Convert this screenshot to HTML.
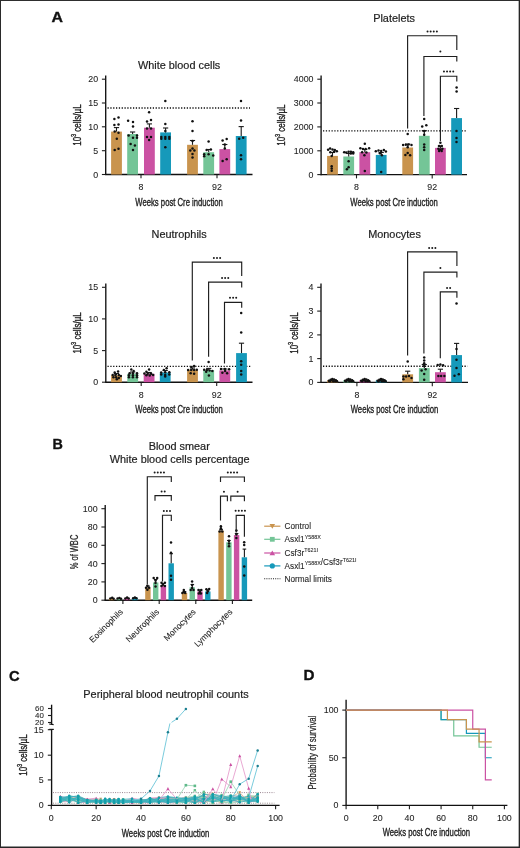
<!DOCTYPE html>
<html><head><meta charset="utf-8"><style>
html,body{margin:0;padding:0;background:#fff;}
svg{display:block;font-family:"Liberation Sans",sans-serif;will-change:transform;}
text{stroke:#222;stroke-width:0.2px;}
.t{stroke-width:0.08px;}
.p{stroke:#111;stroke-width:0.35px;}
.w{stroke-width:0.22px;}
.c{stroke-width:0.36px;}
</style></head><body>
<svg width="520" height="848" viewBox="0 0 520 848">
<rect x="0" y="0" width="520" height="848" fill="#fff"/>
<text transform="translate(51.60,21.90) scale(1.08,1)" font-size="14.7" text-anchor="start" font-weight="bold" fill="#111" class="p">A</text>
<text transform="translate(52.60,448.60) scale(0.97,1)" font-size="14.8" text-anchor="start" font-weight="bold" fill="#111" class="p">B</text>
<text transform="translate(9.00,680.90)" font-size="14.7" text-anchor="start" font-weight="bold" fill="#111" class="p">C</text>
<text transform="translate(303.40,680.20) scale(1.03,1)" font-size="14.8" text-anchor="start" font-weight="bold" fill="#111" class="p">D</text>
<line x1="105.70" y1="75.40" x2="105.70" y2="175.10" stroke="#111" stroke-width="1.35"/>
<line x1="105.10" y1="174.50" x2="252.50" y2="174.50" stroke="#111" stroke-width="1.35"/>
<line x1="101.90" y1="79.20" x2="105.70" y2="79.20" stroke="#1e1e1e" stroke-width="1.1"/>
<text transform="translate(98.10,82.26) scale(1.03,1)" font-size="8.6" text-anchor="end" fill="#1e1e1e" class="t">20</text>
<line x1="101.90" y1="103.00" x2="105.70" y2="103.00" stroke="#1e1e1e" stroke-width="1.1"/>
<text transform="translate(98.10,106.06) scale(1.03,1)" font-size="8.6" text-anchor="end" fill="#1e1e1e" class="t">15</text>
<line x1="101.90" y1="126.80" x2="105.70" y2="126.80" stroke="#1e1e1e" stroke-width="1.1"/>
<text transform="translate(98.10,129.86) scale(1.03,1)" font-size="8.6" text-anchor="end" fill="#1e1e1e" class="t">10</text>
<line x1="101.90" y1="150.70" x2="105.70" y2="150.70" stroke="#1e1e1e" stroke-width="1.1"/>
<text transform="translate(98.10,153.76) scale(1.03,1)" font-size="8.6" text-anchor="end" fill="#1e1e1e" class="t">5</text>
<line x1="101.90" y1="174.50" x2="105.70" y2="174.50" stroke="#1e1e1e" stroke-width="1.1"/>
<text transform="translate(98.10,177.56) scale(1.03,1)" font-size="8.6" text-anchor="end" fill="#1e1e1e" class="t">0</text>
<line x1="141.00" y1="174.50" x2="141.00" y2="178.30" stroke="#1e1e1e" stroke-width="1.1"/>
<text transform="translate(141.00,189.90) scale(1.03,1)" font-size="8.6" text-anchor="middle" fill="#1e1e1e" class="t">8</text>
<line x1="217.00" y1="174.50" x2="217.00" y2="178.30" stroke="#1e1e1e" stroke-width="1.1"/>
<text transform="translate(217.00,189.90) scale(1.03,1)" font-size="8.6" text-anchor="middle" fill="#1e1e1e" class="t">92</text>
<text transform="translate(179.10,68.70)" font-size="10.9" text-anchor="middle" fill="#1e1e1e">White blood cells</text>
<text x="179.10" y="205.50" font-size="10.8" text-anchor="middle" fill="#1e1e1e" class="c" textLength="87.5" lengthAdjust="spacingAndGlyphs">Weeks post Cre induction</text>
<text transform="translate(81.00,125.05) rotate(-90)" font-size="10.3" text-anchor="middle" fill="#1e1e1e" class="c" textLength="41.3" lengthAdjust="spacingAndGlyphs">10<tspan font-size="6.6" dy="-4.9">3</tspan><tspan dy="4.9"> cells/µL</tspan></text>
<line x1="107.50" y1="108.00" x2="250.00" y2="108.00" stroke="#0d0d0d" stroke-width="1.35" stroke-dasharray="1.25 1.58"/>
<rect x="111.10" y="131.60" width="10.80" height="42.90" fill="#C9944E"/>
<line x1="116.50" y1="127.60" x2="116.50" y2="131.60" stroke="#1a1a1a" stroke-width="1.1"/>
<line x1="113.90" y1="127.60" x2="119.10" y2="127.60" stroke="#1a1a1a" stroke-width="1.1"/>
<circle cx="114.40" cy="119.00" r="1.25" fill="#111"/>
<circle cx="118.50" cy="117.60" r="1.25" fill="#111"/>
<circle cx="114.40" cy="124.90" r="1.25" fill="#111"/>
<circle cx="118.50" cy="124.60" r="1.25" fill="#111"/>
<circle cx="114.70" cy="131.60" r="1.25" fill="#111"/>
<circle cx="118.50" cy="132.70" r="1.25" fill="#111"/>
<circle cx="116.80" cy="138.70" r="1.25" fill="#111"/>
<circle cx="114.70" cy="149.90" r="1.25" fill="#111"/>
<circle cx="118.50" cy="148.80" r="1.25" fill="#111"/>
<rect x="127.20" y="134.00" width="10.80" height="40.50" fill="#74C597"/>
<line x1="132.60" y1="132.00" x2="132.60" y2="134.00" stroke="#1a1a1a" stroke-width="1.1"/>
<line x1="130.00" y1="132.00" x2="135.20" y2="132.00" stroke="#1a1a1a" stroke-width="1.1"/>
<circle cx="128.10" cy="120.80" r="1.25" fill="#111"/>
<circle cx="133.00" cy="121.90" r="1.25" fill="#111"/>
<circle cx="133.00" cy="126.60" r="1.25" fill="#111"/>
<circle cx="128.60" cy="135.60" r="1.25" fill="#111"/>
<circle cx="133.00" cy="137.80" r="1.25" fill="#111"/>
<circle cx="137.00" cy="135.60" r="1.25" fill="#111"/>
<circle cx="137.00" cy="137.80" r="1.25" fill="#111"/>
<circle cx="130.60" cy="144.10" r="1.25" fill="#111"/>
<circle cx="134.90" cy="145.50" r="1.25" fill="#111"/>
<circle cx="133.00" cy="149.90" r="1.25" fill="#111"/>
<rect x="144.00" y="127.70" width="10.80" height="46.80" fill="#CB52A3"/>
<line x1="149.40" y1="123.90" x2="149.40" y2="127.70" stroke="#1a1a1a" stroke-width="1.1"/>
<line x1="146.80" y1="123.90" x2="152.00" y2="123.90" stroke="#1a1a1a" stroke-width="1.1"/>
<circle cx="149.10" cy="112.20" r="1.25" fill="#111"/>
<circle cx="147.00" cy="121.60" r="1.25" fill="#111"/>
<circle cx="151.00" cy="119.90" r="1.25" fill="#111"/>
<circle cx="147.00" cy="128.60" r="1.25" fill="#111"/>
<circle cx="151.00" cy="128.60" r="1.25" fill="#111"/>
<circle cx="147.00" cy="137.00" r="1.25" fill="#111"/>
<circle cx="151.00" cy="137.00" r="1.25" fill="#111"/>
<circle cx="149.10" cy="140.10" r="1.25" fill="#111"/>
<rect x="160.20" y="132.40" width="10.80" height="42.10" fill="#1699BA"/>
<line x1="165.60" y1="128.00" x2="165.60" y2="132.40" stroke="#1a1a1a" stroke-width="1.1"/>
<line x1="163.00" y1="128.00" x2="168.20" y2="128.00" stroke="#1a1a1a" stroke-width="1.1"/>
<circle cx="165.30" cy="101.10" r="1.25" fill="#111"/>
<circle cx="165.30" cy="123.90" r="1.25" fill="#111"/>
<circle cx="165.30" cy="131.10" r="1.25" fill="#111"/>
<circle cx="161.30" cy="137.00" r="1.25" fill="#111"/>
<circle cx="165.30" cy="137.00" r="1.25" fill="#111"/>
<circle cx="169.30" cy="137.00" r="1.25" fill="#111"/>
<circle cx="161.30" cy="138.70" r="1.25" fill="#111"/>
<circle cx="165.30" cy="138.70" r="1.25" fill="#111"/>
<circle cx="169.30" cy="138.70" r="1.25" fill="#111"/>
<circle cx="165.30" cy="147.20" r="1.25" fill="#111"/>
<rect x="187.10" y="144.80" width="10.80" height="29.70" fill="#C9944E"/>
<line x1="192.50" y1="140.50" x2="192.50" y2="144.80" stroke="#1a1a1a" stroke-width="1.1"/>
<line x1="189.90" y1="140.50" x2="195.10" y2="140.50" stroke="#1a1a1a" stroke-width="1.1"/>
<circle cx="192.50" cy="121.20" r="1.25" fill="#111"/>
<circle cx="192.50" cy="131.10" r="1.25" fill="#111"/>
<circle cx="192.50" cy="141.00" r="1.25" fill="#111"/>
<circle cx="190.30" cy="150.50" r="1.25" fill="#111"/>
<circle cx="194.40" cy="150.50" r="1.25" fill="#111"/>
<circle cx="192.50" cy="148.60" r="1.25" fill="#111"/>
<circle cx="192.50" cy="154.00" r="1.25" fill="#111"/>
<circle cx="192.50" cy="157.60" r="1.25" fill="#111"/>
<rect x="203.30" y="152.20" width="10.80" height="22.30" fill="#74C597"/>
<line x1="208.70" y1="149.50" x2="208.70" y2="152.20" stroke="#1a1a1a" stroke-width="1.1"/>
<line x1="206.10" y1="149.50" x2="211.30" y2="149.50" stroke="#1a1a1a" stroke-width="1.1"/>
<circle cx="208.60" cy="141.40" r="1.25" fill="#111"/>
<circle cx="206.60" cy="149.90" r="1.25" fill="#111"/>
<circle cx="210.90" cy="149.50" r="1.25" fill="#111"/>
<circle cx="204.20" cy="154.20" r="1.25" fill="#111"/>
<circle cx="208.60" cy="154.20" r="1.25" fill="#111"/>
<circle cx="213.20" cy="155.60" r="1.25" fill="#111"/>
<circle cx="204.20" cy="156.20" r="1.25" fill="#111"/>
<rect x="219.40" y="149.10" width="10.80" height="25.40" fill="#CB52A3"/>
<line x1="224.80" y1="144.50" x2="224.80" y2="149.10" stroke="#1a1a1a" stroke-width="1.1"/>
<line x1="222.20" y1="144.50" x2="227.40" y2="144.50" stroke="#1a1a1a" stroke-width="1.1"/>
<circle cx="222.60" cy="140.50" r="1.25" fill="#111"/>
<circle cx="226.70" cy="139.10" r="1.25" fill="#111"/>
<circle cx="224.80" cy="144.50" r="1.25" fill="#111"/>
<circle cx="224.80" cy="148.60" r="1.25" fill="#111"/>
<circle cx="222.60" cy="161.00" r="1.25" fill="#111"/>
<circle cx="226.70" cy="159.30" r="1.25" fill="#111"/>
<rect x="235.80" y="136.00" width="10.80" height="38.50" fill="#1699BA"/>
<line x1="241.20" y1="126.60" x2="241.20" y2="136.00" stroke="#1a1a1a" stroke-width="1.1"/>
<line x1="238.60" y1="126.60" x2="243.80" y2="126.60" stroke="#1a1a1a" stroke-width="1.1"/>
<circle cx="241.00" cy="101.10" r="1.25" fill="#111"/>
<circle cx="241.00" cy="120.60" r="1.25" fill="#111"/>
<circle cx="239.20" cy="138.70" r="1.25" fill="#111"/>
<circle cx="243.20" cy="137.80" r="1.25" fill="#111"/>
<circle cx="241.00" cy="155.30" r="1.25" fill="#111"/>
<circle cx="241.00" cy="159.30" r="1.25" fill="#111"/>
<line x1="321.10" y1="75.40" x2="321.10" y2="175.20" stroke="#111" stroke-width="1.35"/>
<line x1="320.50" y1="174.60" x2="467.00" y2="174.60" stroke="#111" stroke-width="1.35"/>
<line x1="317.30" y1="79.20" x2="321.10" y2="79.20" stroke="#1e1e1e" stroke-width="1.1"/>
<text transform="translate(313.50,82.26) scale(1.03,1)" font-size="8.6" text-anchor="end" fill="#1e1e1e" class="t">4000</text>
<line x1="317.30" y1="103.00" x2="321.10" y2="103.00" stroke="#1e1e1e" stroke-width="1.1"/>
<text transform="translate(313.50,106.06) scale(1.03,1)" font-size="8.6" text-anchor="end" fill="#1e1e1e" class="t">3000</text>
<line x1="317.30" y1="126.90" x2="321.10" y2="126.90" stroke="#1e1e1e" stroke-width="1.1"/>
<text transform="translate(313.50,129.96) scale(1.03,1)" font-size="8.6" text-anchor="end" fill="#1e1e1e" class="t">2000</text>
<line x1="317.30" y1="150.80" x2="321.10" y2="150.80" stroke="#1e1e1e" stroke-width="1.1"/>
<text transform="translate(313.50,153.86) scale(1.03,1)" font-size="8.6" text-anchor="end" fill="#1e1e1e" class="t">1000</text>
<line x1="317.30" y1="174.60" x2="321.10" y2="174.60" stroke="#1e1e1e" stroke-width="1.1"/>
<text transform="translate(313.50,177.66) scale(1.03,1)" font-size="8.6" text-anchor="end" fill="#1e1e1e" class="t">0</text>
<line x1="356.50" y1="174.60" x2="356.50" y2="178.40" stroke="#1e1e1e" stroke-width="1.1"/>
<text transform="translate(356.50,190.00) scale(1.03,1)" font-size="8.6" text-anchor="middle" fill="#1e1e1e" class="t">8</text>
<line x1="432.20" y1="174.60" x2="432.20" y2="178.40" stroke="#1e1e1e" stroke-width="1.1"/>
<text transform="translate(432.20,190.00) scale(1.03,1)" font-size="8.6" text-anchor="middle" fill="#1e1e1e" class="t">92</text>
<text transform="translate(394.05,21.70)" font-size="10.9" text-anchor="middle" fill="#1e1e1e">Platelets</text>
<text x="394.10" y="205.60" font-size="10.8" text-anchor="middle" fill="#1e1e1e" class="c" textLength="87.5" lengthAdjust="spacingAndGlyphs">Weeks post Cre induction</text>
<text transform="translate(284.80,125.10) rotate(-90)" font-size="10.3" text-anchor="middle" fill="#1e1e1e" class="c" textLength="41.3" lengthAdjust="spacingAndGlyphs">10<tspan font-size="6.6" dy="-4.9">3</tspan><tspan dy="4.9"> cells/µL</tspan></text>
<line x1="323.00" y1="130.80" x2="466.00" y2="130.80" stroke="#0d0d0d" stroke-width="1.35" stroke-dasharray="1.25 1.58"/>
<rect x="327.10" y="155.90" width="10.80" height="18.70" fill="#C9944E"/>
<line x1="332.50" y1="152.50" x2="332.50" y2="155.90" stroke="#1a1a1a" stroke-width="1.1"/>
<line x1="329.90" y1="152.50" x2="335.10" y2="152.50" stroke="#1a1a1a" stroke-width="1.1"/>
<circle cx="328.10" cy="149.80" r="1.25" fill="#111"/>
<circle cx="330.10" cy="148.50" r="1.25" fill="#111"/>
<circle cx="332.50" cy="149.50" r="1.25" fill="#111"/>
<circle cx="334.80" cy="150.10" r="1.25" fill="#111"/>
<circle cx="336.80" cy="151.20" r="1.25" fill="#111"/>
<circle cx="330.30" cy="152.20" r="1.25" fill="#111"/>
<circle cx="334.10" cy="151.80" r="1.25" fill="#111"/>
<circle cx="331.70" cy="155.90" r="1.25" fill="#111"/>
<circle cx="331.70" cy="166.20" r="1.25" fill="#111"/>
<circle cx="331.70" cy="168.40" r="1.25" fill="#111"/>
<circle cx="331.70" cy="170.70" r="1.25" fill="#111"/>
<rect x="343.30" y="156.50" width="10.80" height="18.10" fill="#74C597"/>
<line x1="348.70" y1="153.50" x2="348.70" y2="156.50" stroke="#1a1a1a" stroke-width="1.1"/>
<line x1="346.10" y1="153.50" x2="351.30" y2="153.50" stroke="#1a1a1a" stroke-width="1.1"/>
<circle cx="344.20" cy="152.20" r="1.25" fill="#111"/>
<circle cx="346.20" cy="152.50" r="1.25" fill="#111"/>
<circle cx="348.60" cy="151.80" r="1.25" fill="#111"/>
<circle cx="350.90" cy="151.80" r="1.25" fill="#111"/>
<circle cx="353.20" cy="152.20" r="1.25" fill="#111"/>
<circle cx="350.90" cy="153.60" r="1.25" fill="#111"/>
<circle cx="353.20" cy="153.60" r="1.25" fill="#111"/>
<circle cx="348.60" cy="161.20" r="1.25" fill="#111"/>
<circle cx="348.60" cy="167.30" r="1.25" fill="#111"/>
<circle cx="346.90" cy="169.30" r="1.25" fill="#111"/>
<rect x="359.40" y="152.20" width="10.80" height="22.40" fill="#CB52A3"/>
<line x1="364.80" y1="149.50" x2="364.80" y2="152.20" stroke="#1a1a1a" stroke-width="1.1"/>
<line x1="362.20" y1="149.50" x2="367.40" y2="149.50" stroke="#1a1a1a" stroke-width="1.1"/>
<circle cx="364.80" cy="143.70" r="1.25" fill="#111"/>
<circle cx="360.40" cy="148.20" r="1.25" fill="#111"/>
<circle cx="363.00" cy="149.10" r="1.25" fill="#111"/>
<circle cx="365.70" cy="149.10" r="1.25" fill="#111"/>
<circle cx="369.10" cy="148.20" r="1.25" fill="#111"/>
<circle cx="362.10" cy="152.20" r="1.25" fill="#111"/>
<circle cx="366.40" cy="152.50" r="1.25" fill="#111"/>
<circle cx="364.40" cy="155.20" r="1.25" fill="#111"/>
<circle cx="364.80" cy="171.10" r="1.25" fill="#111"/>
<rect x="375.80" y="154.90" width="10.80" height="19.70" fill="#1699BA"/>
<line x1="381.20" y1="152.50" x2="381.20" y2="154.90" stroke="#1a1a1a" stroke-width="1.1"/>
<line x1="378.60" y1="152.50" x2="383.80" y2="152.50" stroke="#1a1a1a" stroke-width="1.1"/>
<circle cx="375.80" cy="151.20" r="1.25" fill="#111"/>
<circle cx="378.50" cy="150.50" r="1.25" fill="#111"/>
<circle cx="381.20" cy="150.90" r="1.25" fill="#111"/>
<circle cx="383.90" cy="150.10" r="1.25" fill="#111"/>
<circle cx="385.90" cy="151.40" r="1.25" fill="#111"/>
<circle cx="379.90" cy="153.20" r="1.25" fill="#111"/>
<circle cx="381.90" cy="155.20" r="1.25" fill="#111"/>
<circle cx="381.20" cy="172.00" r="1.25" fill="#111"/>
<rect x="402.30" y="147.50" width="10.80" height="27.10" fill="#C9944E"/>
<line x1="407.70" y1="144.10" x2="407.70" y2="147.50" stroke="#1a1a1a" stroke-width="1.1"/>
<line x1="405.10" y1="144.10" x2="410.30" y2="144.10" stroke="#1a1a1a" stroke-width="1.1"/>
<circle cx="407.70" cy="134.00" r="1.25" fill="#111"/>
<circle cx="403.10" cy="145.10" r="1.25" fill="#111"/>
<circle cx="405.80" cy="144.80" r="1.25" fill="#111"/>
<circle cx="408.50" cy="144.50" r="1.25" fill="#111"/>
<circle cx="411.50" cy="145.10" r="1.25" fill="#111"/>
<circle cx="407.70" cy="147.20" r="1.25" fill="#111"/>
<circle cx="405.40" cy="154.90" r="1.25" fill="#111"/>
<circle cx="407.70" cy="152.90" r="1.25" fill="#111"/>
<circle cx="410.10" cy="155.30" r="1.25" fill="#111"/>
<rect x="418.90" y="135.80" width="10.80" height="38.80" fill="#74C597"/>
<line x1="424.30" y1="130.70" x2="424.30" y2="135.80" stroke="#1a1a1a" stroke-width="1.1"/>
<line x1="421.70" y1="130.70" x2="426.90" y2="130.70" stroke="#1a1a1a" stroke-width="1.1"/>
<circle cx="424.20" cy="119.00" r="1.25" fill="#111"/>
<circle cx="422.20" cy="126.60" r="1.25" fill="#111"/>
<circle cx="426.30" cy="125.30" r="1.25" fill="#111"/>
<circle cx="424.20" cy="131.10" r="1.25" fill="#111"/>
<circle cx="424.20" cy="134.70" r="1.25" fill="#111"/>
<circle cx="424.20" cy="144.50" r="1.25" fill="#111"/>
<circle cx="424.20" cy="147.20" r="1.25" fill="#111"/>
<circle cx="424.20" cy="149.90" r="1.25" fill="#111"/>
<rect x="435.00" y="147.90" width="10.80" height="26.70" fill="#CB52A3"/>
<line x1="440.40" y1="146.00" x2="440.40" y2="147.90" stroke="#1a1a1a" stroke-width="1.1"/>
<line x1="437.80" y1="146.00" x2="443.00" y2="146.00" stroke="#1a1a1a" stroke-width="1.1"/>
<circle cx="440.40" cy="142.80" r="1.25" fill="#111"/>
<circle cx="439.10" cy="145.90" r="1.25" fill="#111"/>
<circle cx="441.70" cy="145.90" r="1.25" fill="#111"/>
<circle cx="438.40" cy="148.80" r="1.25" fill="#111"/>
<circle cx="440.40" cy="149.50" r="1.25" fill="#111"/>
<circle cx="442.40" cy="148.80" r="1.25" fill="#111"/>
<circle cx="439.10" cy="150.90" r="1.25" fill="#111"/>
<circle cx="441.70" cy="150.90" r="1.25" fill="#111"/>
<rect x="451.20" y="118.10" width="10.80" height="56.50" fill="#1699BA"/>
<line x1="456.60" y1="108.50" x2="456.60" y2="118.10" stroke="#1a1a1a" stroke-width="1.1"/>
<line x1="454.00" y1="108.50" x2="459.20" y2="108.50" stroke="#1a1a1a" stroke-width="1.1"/>
<circle cx="456.60" cy="87.40" r="1.25" fill="#111"/>
<circle cx="456.60" cy="91.50" r="1.25" fill="#111"/>
<circle cx="456.50" cy="131.10" r="1.25" fill="#111"/>
<circle cx="456.50" cy="138.10" r="1.25" fill="#111"/>
<circle cx="456.50" cy="142.10" r="1.25" fill="#111"/>
<path d="M407.60,128.50 V35.70 H456.80 V50.00" stroke="#1e1e1e" stroke-width="1.15" fill="none"/>
<circle cx="427.55" cy="31.60" r="1.0" fill="#1a1a1a"/>
<circle cx="430.65" cy="31.60" r="1.0" fill="#1a1a1a"/>
<circle cx="433.75" cy="31.60" r="1.0" fill="#1a1a1a"/>
<circle cx="436.85" cy="31.60" r="1.0" fill="#1a1a1a"/>
<path d="M423.90,116.00 V56.50 H456.80 V61.50" stroke="#1e1e1e" stroke-width="1.15" fill="none"/>
<circle cx="440.35" cy="51.60" r="1.0" fill="#1a1a1a"/>
<path d="M440.40,141.00 V76.20 H456.80 V81.50" stroke="#1e1e1e" stroke-width="1.15" fill="none"/>
<circle cx="443.95" cy="71.60" r="1.0" fill="#1a1a1a"/>
<circle cx="447.05" cy="71.60" r="1.0" fill="#1a1a1a"/>
<circle cx="450.15" cy="71.60" r="1.0" fill="#1a1a1a"/>
<circle cx="453.25" cy="71.60" r="1.0" fill="#1a1a1a"/>
<line x1="105.80" y1="283.50" x2="105.80" y2="382.80" stroke="#111" stroke-width="1.35"/>
<line x1="105.20" y1="382.20" x2="252.50" y2="382.20" stroke="#111" stroke-width="1.35"/>
<line x1="102.00" y1="287.30" x2="105.80" y2="287.30" stroke="#1e1e1e" stroke-width="1.1"/>
<text transform="translate(98.20,290.36) scale(1.03,1)" font-size="8.6" text-anchor="end" fill="#1e1e1e" class="t">15</text>
<line x1="102.00" y1="318.90" x2="105.80" y2="318.90" stroke="#1e1e1e" stroke-width="1.1"/>
<text transform="translate(98.20,321.96) scale(1.03,1)" font-size="8.6" text-anchor="end" fill="#1e1e1e" class="t">10</text>
<line x1="102.00" y1="350.60" x2="105.80" y2="350.60" stroke="#1e1e1e" stroke-width="1.1"/>
<text transform="translate(98.20,353.66) scale(1.03,1)" font-size="8.6" text-anchor="end" fill="#1e1e1e" class="t">5</text>
<line x1="102.00" y1="382.20" x2="105.80" y2="382.20" stroke="#1e1e1e" stroke-width="1.1"/>
<text transform="translate(98.20,385.26) scale(1.03,1)" font-size="8.6" text-anchor="end" fill="#1e1e1e" class="t">0</text>
<line x1="141.20" y1="382.20" x2="141.20" y2="386.00" stroke="#1e1e1e" stroke-width="1.1"/>
<text transform="translate(141.20,397.60) scale(1.03,1)" font-size="8.6" text-anchor="middle" fill="#1e1e1e" class="t">8</text>
<line x1="216.70" y1="382.20" x2="216.70" y2="386.00" stroke="#1e1e1e" stroke-width="1.1"/>
<text transform="translate(216.70,397.60) scale(1.03,1)" font-size="8.6" text-anchor="middle" fill="#1e1e1e" class="t">92</text>
<text transform="translate(179.15,238.10)" font-size="10.9" text-anchor="middle" fill="#1e1e1e">Neutrophils</text>
<text x="179.10" y="413.20" font-size="10.8" text-anchor="middle" fill="#1e1e1e" class="c" textLength="87.5" lengthAdjust="spacingAndGlyphs">Weeks post Cre induction</text>
<text transform="translate(81.00,332.95) rotate(-90)" font-size="10.3" text-anchor="middle" fill="#1e1e1e" class="c" textLength="41.3" lengthAdjust="spacingAndGlyphs">10<tspan font-size="6.6" dy="-4.9">3</tspan><tspan dy="4.9"> cells/µL</tspan></text>
<line x1="107.50" y1="366.30" x2="250.40" y2="366.30" stroke="#0d0d0d" stroke-width="1.35" stroke-dasharray="1.25 1.58"/>
<rect x="111.10" y="375.20" width="10.80" height="7.00" fill="#C9944E"/>
<line x1="116.50" y1="373.50" x2="116.50" y2="375.20" stroke="#1a1a1a" stroke-width="1.1"/>
<line x1="113.90" y1="373.50" x2="119.10" y2="373.50" stroke="#1a1a1a" stroke-width="1.1"/>
<circle cx="114.70" cy="372.50" r="1.25" fill="#111"/>
<circle cx="118.10" cy="371.40" r="1.25" fill="#111"/>
<circle cx="112.70" cy="374.90" r="1.25" fill="#111"/>
<circle cx="115.40" cy="374.90" r="1.25" fill="#111"/>
<circle cx="118.80" cy="374.90" r="1.25" fill="#111"/>
<circle cx="120.80" cy="375.90" r="1.25" fill="#111"/>
<circle cx="113.40" cy="377.20" r="1.25" fill="#111"/>
<circle cx="116.10" cy="377.20" r="1.25" fill="#111"/>
<circle cx="118.80" cy="377.90" r="1.25" fill="#111"/>
<circle cx="116.80" cy="379.20" r="1.25" fill="#111"/>
<rect x="127.30" y="373.80" width="10.80" height="8.40" fill="#74C597"/>
<line x1="132.70" y1="372.00" x2="132.70" y2="373.80" stroke="#1a1a1a" stroke-width="1.1"/>
<line x1="130.10" y1="372.00" x2="135.30" y2="372.00" stroke="#1a1a1a" stroke-width="1.1"/>
<circle cx="131.30" cy="369.50" r="1.25" fill="#111"/>
<circle cx="133.60" cy="370.90" r="1.25" fill="#111"/>
<circle cx="129.60" cy="373.20" r="1.25" fill="#111"/>
<circle cx="132.90" cy="373.20" r="1.25" fill="#111"/>
<circle cx="137.00" cy="373.20" r="1.25" fill="#111"/>
<circle cx="128.90" cy="375.20" r="1.25" fill="#111"/>
<circle cx="132.90" cy="375.20" r="1.25" fill="#111"/>
<circle cx="137.00" cy="375.20" r="1.25" fill="#111"/>
<circle cx="128.90" cy="377.20" r="1.25" fill="#111"/>
<circle cx="132.90" cy="377.20" r="1.25" fill="#111"/>
<circle cx="137.00" cy="377.20" r="1.25" fill="#111"/>
<rect x="143.70" y="373.80" width="10.80" height="8.40" fill="#CB52A3"/>
<line x1="149.10" y1="372.50" x2="149.10" y2="373.80" stroke="#1a1a1a" stroke-width="1.1"/>
<line x1="146.50" y1="372.50" x2="151.70" y2="372.50" stroke="#1a1a1a" stroke-width="1.1"/>
<circle cx="149.10" cy="369.50" r="1.25" fill="#111"/>
<circle cx="146.40" cy="371.80" r="1.25" fill="#111"/>
<circle cx="144.40" cy="373.60" r="1.25" fill="#111"/>
<circle cx="147.70" cy="373.80" r="1.25" fill="#111"/>
<circle cx="151.10" cy="373.80" r="1.25" fill="#111"/>
<circle cx="153.10" cy="374.90" r="1.25" fill="#111"/>
<circle cx="146.40" cy="375.20" r="1.25" fill="#111"/>
<circle cx="149.70" cy="375.50" r="1.25" fill="#111"/>
<rect x="159.80" y="372.50" width="10.80" height="9.70" fill="#1699BA"/>
<line x1="165.20" y1="370.50" x2="165.20" y2="372.50" stroke="#1a1a1a" stroke-width="1.1"/>
<line x1="162.60" y1="370.50" x2="167.80" y2="370.50" stroke="#1a1a1a" stroke-width="1.1"/>
<circle cx="166.60" cy="368.20" r="1.25" fill="#111"/>
<circle cx="163.90" cy="370.10" r="1.25" fill="#111"/>
<circle cx="161.20" cy="372.50" r="1.25" fill="#111"/>
<circle cx="165.20" cy="372.20" r="1.25" fill="#111"/>
<circle cx="169.30" cy="372.20" r="1.25" fill="#111"/>
<circle cx="161.20" cy="374.50" r="1.25" fill="#111"/>
<circle cx="165.20" cy="374.90" r="1.25" fill="#111"/>
<circle cx="169.30" cy="374.50" r="1.25" fill="#111"/>
<circle cx="165.20" cy="376.50" r="1.25" fill="#111"/>
<rect x="187.10" y="369.70" width="10.80" height="12.50" fill="#C9944E"/>
<line x1="192.50" y1="368.00" x2="192.50" y2="369.70" stroke="#1a1a1a" stroke-width="1.1"/>
<line x1="189.90" y1="368.00" x2="195.10" y2="368.00" stroke="#1a1a1a" stroke-width="1.1"/>
<circle cx="191.40" cy="367.00" r="1.25" fill="#111"/>
<circle cx="194.10" cy="366.10" r="1.25" fill="#111"/>
<circle cx="188.10" cy="370.10" r="1.25" fill="#111"/>
<circle cx="191.20" cy="370.10" r="1.25" fill="#111"/>
<circle cx="194.10" cy="370.10" r="1.25" fill="#111"/>
<circle cx="196.80" cy="369.70" r="1.25" fill="#111"/>
<circle cx="190.70" cy="373.30" r="1.25" fill="#111"/>
<circle cx="194.10" cy="373.70" r="1.25" fill="#111"/>
<rect x="203.30" y="370.10" width="10.80" height="12.10" fill="#74C597"/>
<line x1="208.70" y1="368.40" x2="208.70" y2="370.10" stroke="#1a1a1a" stroke-width="1.1"/>
<line x1="206.10" y1="368.40" x2="211.30" y2="368.40" stroke="#1a1a1a" stroke-width="1.1"/>
<circle cx="208.60" cy="362.00" r="1.25" fill="#111"/>
<circle cx="204.20" cy="369.70" r="1.25" fill="#111"/>
<circle cx="206.90" cy="370.10" r="1.25" fill="#111"/>
<circle cx="209.60" cy="370.40" r="1.25" fill="#111"/>
<circle cx="212.30" cy="371.00" r="1.25" fill="#111"/>
<circle cx="206.20" cy="371.70" r="1.25" fill="#111"/>
<circle cx="208.90" cy="375.50" r="1.25" fill="#111"/>
<rect x="219.40" y="370.40" width="10.80" height="11.80" fill="#CB52A3"/>
<line x1="224.80" y1="369.00" x2="224.80" y2="370.40" stroke="#1a1a1a" stroke-width="1.1"/>
<line x1="222.20" y1="369.00" x2="227.40" y2="369.00" stroke="#1a1a1a" stroke-width="1.1"/>
<circle cx="221.00" cy="369.00" r="1.25" fill="#111"/>
<circle cx="224.80" cy="369.00" r="1.25" fill="#111"/>
<circle cx="229.10" cy="369.30" r="1.25" fill="#111"/>
<circle cx="222.40" cy="372.80" r="1.25" fill="#111"/>
<circle cx="225.10" cy="371.00" r="1.25" fill="#111"/>
<circle cx="227.10" cy="373.30" r="1.25" fill="#111"/>
<rect x="236.10" y="353.10" width="10.80" height="29.10" fill="#1699BA"/>
<line x1="241.50" y1="343.20" x2="241.50" y2="353.10" stroke="#1a1a1a" stroke-width="1.1"/>
<line x1="238.90" y1="343.20" x2="244.10" y2="343.20" stroke="#1a1a1a" stroke-width="1.1"/>
<circle cx="241.20" cy="313.10" r="1.25" fill="#111"/>
<circle cx="241.20" cy="332.50" r="1.25" fill="#111"/>
<circle cx="241.20" cy="361.20" r="1.25" fill="#111"/>
<circle cx="241.20" cy="364.70" r="1.25" fill="#111"/>
<circle cx="241.20" cy="371.00" r="1.25" fill="#111"/>
<circle cx="241.20" cy="374.40" r="1.25" fill="#111"/>
<path d="M192.30,360.60 V262.10 H241.70 V276.00" stroke="#1e1e1e" stroke-width="1.15" fill="none"/>
<circle cx="213.90" cy="258.00" r="1.0" fill="#1a1a1a"/>
<circle cx="217.00" cy="258.00" r="1.0" fill="#1a1a1a"/>
<circle cx="220.10" cy="258.00" r="1.0" fill="#1a1a1a"/>
<path d="M208.60,356.70 V282.10 H241.70 V287.50" stroke="#1e1e1e" stroke-width="1.15" fill="none"/>
<circle cx="222.05" cy="277.90" r="1.0" fill="#1a1a1a"/>
<circle cx="225.15" cy="277.90" r="1.0" fill="#1a1a1a"/>
<circle cx="228.25" cy="277.90" r="1.0" fill="#1a1a1a"/>
<path d="M224.50,363.50 V302.30 H241.70 V307.70" stroke="#1e1e1e" stroke-width="1.15" fill="none"/>
<circle cx="230.00" cy="297.80" r="1.0" fill="#1a1a1a"/>
<circle cx="233.10" cy="297.80" r="1.0" fill="#1a1a1a"/>
<circle cx="236.20" cy="297.80" r="1.0" fill="#1a1a1a"/>
<line x1="321.00" y1="283.50" x2="321.00" y2="383.00" stroke="#111" stroke-width="1.35"/>
<line x1="320.40" y1="382.40" x2="468.00" y2="382.40" stroke="#111" stroke-width="1.35"/>
<line x1="317.20" y1="287.30" x2="321.00" y2="287.30" stroke="#1e1e1e" stroke-width="1.1"/>
<text transform="translate(313.40,290.36) scale(1.03,1)" font-size="8.6" text-anchor="end" fill="#1e1e1e" class="t">4</text>
<line x1="317.20" y1="311.10" x2="321.00" y2="311.10" stroke="#1e1e1e" stroke-width="1.1"/>
<text transform="translate(313.40,314.16) scale(1.03,1)" font-size="8.6" text-anchor="end" fill="#1e1e1e" class="t">3</text>
<line x1="317.20" y1="334.90" x2="321.00" y2="334.90" stroke="#1e1e1e" stroke-width="1.1"/>
<text transform="translate(313.40,337.96) scale(1.03,1)" font-size="8.6" text-anchor="end" fill="#1e1e1e" class="t">2</text>
<line x1="317.20" y1="358.60" x2="321.00" y2="358.60" stroke="#1e1e1e" stroke-width="1.1"/>
<text transform="translate(313.40,361.66) scale(1.03,1)" font-size="8.6" text-anchor="end" fill="#1e1e1e" class="t">1</text>
<line x1="317.20" y1="382.40" x2="321.00" y2="382.40" stroke="#1e1e1e" stroke-width="1.1"/>
<text transform="translate(313.40,385.46) scale(1.03,1)" font-size="8.6" text-anchor="end" fill="#1e1e1e" class="t">0</text>
<line x1="356.90" y1="382.40" x2="356.90" y2="386.20" stroke="#1e1e1e" stroke-width="1.1"/>
<text transform="translate(356.90,397.80) scale(1.03,1)" font-size="8.6" text-anchor="middle" fill="#1e1e1e" class="t">8</text>
<line x1="432.30" y1="382.40" x2="432.30" y2="386.20" stroke="#1e1e1e" stroke-width="1.1"/>
<text transform="translate(432.30,397.80) scale(1.03,1)" font-size="8.6" text-anchor="middle" fill="#1e1e1e" class="t">92</text>
<text transform="translate(394.50,238.10)" font-size="10.9" text-anchor="middle" fill="#1e1e1e">Monocytes</text>
<text x="394.50" y="413.40" font-size="10.8" text-anchor="middle" fill="#1e1e1e" class="c" textLength="87.5" lengthAdjust="spacingAndGlyphs">Weeks post Cre induction</text>
<text transform="translate(297.50,333.05) rotate(-90)" font-size="10.3" text-anchor="middle" fill="#1e1e1e" class="c" textLength="41.3" lengthAdjust="spacingAndGlyphs">10<tspan font-size="6.6" dy="-4.9">3</tspan><tspan dy="4.9"> cells/µL</tspan></text>
<line x1="323.00" y1="366.20" x2="467.50" y2="366.20" stroke="#0d0d0d" stroke-width="1.35" stroke-dasharray="1.25 1.58"/>
<rect x="327.10" y="380.30" width="10.80" height="2.10" fill="#C9944E"/>
<circle cx="328.90" cy="380.70" r="1.25" fill="#111"/>
<circle cx="330.60" cy="379.80" r="1.25" fill="#111"/>
<circle cx="332.30" cy="378.90" r="1.25" fill="#111"/>
<circle cx="334.10" cy="379.50" r="1.25" fill="#111"/>
<circle cx="335.90" cy="380.30" r="1.25" fill="#111"/>
<circle cx="329.80" cy="381.30" r="1.25" fill="#111"/>
<circle cx="333.30" cy="381.20" r="1.25" fill="#111"/>
<circle cx="335.30" cy="381.30" r="1.25" fill="#111"/>
<circle cx="331.60" cy="380.30" r="1.25" fill="#111"/>
<circle cx="337.00" cy="381.20" r="1.25" fill="#111"/>
<rect x="343.30" y="380.30" width="10.80" height="2.10" fill="#74C597"/>
<circle cx="345.10" cy="380.70" r="1.25" fill="#111"/>
<circle cx="346.80" cy="379.80" r="1.25" fill="#111"/>
<circle cx="348.50" cy="378.90" r="1.25" fill="#111"/>
<circle cx="350.30" cy="379.50" r="1.25" fill="#111"/>
<circle cx="352.10" cy="380.30" r="1.25" fill="#111"/>
<circle cx="346.00" cy="381.30" r="1.25" fill="#111"/>
<circle cx="349.50" cy="381.20" r="1.25" fill="#111"/>
<circle cx="351.50" cy="381.30" r="1.25" fill="#111"/>
<circle cx="347.80" cy="380.30" r="1.25" fill="#111"/>
<circle cx="353.20" cy="381.20" r="1.25" fill="#111"/>
<rect x="359.40" y="380.30" width="10.80" height="2.10" fill="#CB52A3"/>
<circle cx="361.20" cy="380.70" r="1.25" fill="#111"/>
<circle cx="362.90" cy="379.80" r="1.25" fill="#111"/>
<circle cx="364.60" cy="378.90" r="1.25" fill="#111"/>
<circle cx="366.40" cy="379.50" r="1.25" fill="#111"/>
<circle cx="368.20" cy="380.30" r="1.25" fill="#111"/>
<circle cx="362.10" cy="381.30" r="1.25" fill="#111"/>
<circle cx="365.60" cy="381.20" r="1.25" fill="#111"/>
<circle cx="367.60" cy="381.30" r="1.25" fill="#111"/>
<circle cx="363.90" cy="380.30" r="1.25" fill="#111"/>
<circle cx="369.30" cy="381.20" r="1.25" fill="#111"/>
<rect x="375.80" y="380.40" width="10.80" height="2.00" fill="#1699BA"/>
<circle cx="377.60" cy="380.70" r="1.25" fill="#111"/>
<circle cx="379.30" cy="379.80" r="1.25" fill="#111"/>
<circle cx="381.00" cy="378.90" r="1.25" fill="#111"/>
<circle cx="382.80" cy="379.50" r="1.25" fill="#111"/>
<circle cx="384.60" cy="380.30" r="1.25" fill="#111"/>
<circle cx="378.50" cy="381.30" r="1.25" fill="#111"/>
<circle cx="382.00" cy="381.20" r="1.25" fill="#111"/>
<circle cx="384.00" cy="381.30" r="1.25" fill="#111"/>
<circle cx="380.30" cy="380.30" r="1.25" fill="#111"/>
<circle cx="385.70" cy="381.20" r="1.25" fill="#111"/>
<rect x="402.30" y="374.30" width="10.80" height="8.10" fill="#C9944E"/>
<line x1="407.70" y1="371.20" x2="407.70" y2="374.30" stroke="#1a1a1a" stroke-width="1.1"/>
<line x1="405.10" y1="371.20" x2="410.30" y2="371.20" stroke="#1a1a1a" stroke-width="1.1"/>
<circle cx="407.70" cy="361.40" r="1.25" fill="#111"/>
<circle cx="403.40" cy="376.60" r="1.25" fill="#111"/>
<circle cx="406.10" cy="376.60" r="1.25" fill="#111"/>
<circle cx="409.00" cy="375.90" r="1.25" fill="#111"/>
<circle cx="411.50" cy="378.00" r="1.25" fill="#111"/>
<circle cx="403.40" cy="379.30" r="1.25" fill="#111"/>
<rect x="418.90" y="368.10" width="10.80" height="14.30" fill="#74C597"/>
<line x1="424.30" y1="364.50" x2="424.30" y2="368.10" stroke="#1a1a1a" stroke-width="1.1"/>
<line x1="421.70" y1="364.50" x2="426.90" y2="364.50" stroke="#1a1a1a" stroke-width="1.1"/>
<circle cx="424.20" cy="357.40" r="1.25" fill="#111"/>
<circle cx="424.20" cy="360.50" r="1.25" fill="#111"/>
<circle cx="424.20" cy="363.20" r="1.25" fill="#111"/>
<circle cx="424.20" cy="365.90" r="1.25" fill="#111"/>
<circle cx="421.60" cy="370.60" r="1.25" fill="#111"/>
<circle cx="425.60" cy="369.20" r="1.25" fill="#111"/>
<circle cx="424.20" cy="373.90" r="1.25" fill="#111"/>
<circle cx="424.20" cy="379.70" r="1.25" fill="#111"/>
<rect x="435.00" y="372.20" width="10.80" height="10.20" fill="#CB52A3"/>
<line x1="440.40" y1="369.20" x2="440.40" y2="372.20" stroke="#1a1a1a" stroke-width="1.1"/>
<line x1="437.80" y1="369.20" x2="443.00" y2="369.20" stroke="#1a1a1a" stroke-width="1.1"/>
<circle cx="437.70" cy="364.90" r="1.25" fill="#111"/>
<circle cx="440.40" cy="364.50" r="1.25" fill="#111"/>
<circle cx="443.10" cy="365.20" r="1.25" fill="#111"/>
<circle cx="438.40" cy="375.90" r="1.25" fill="#111"/>
<circle cx="441.10" cy="375.90" r="1.25" fill="#111"/>
<circle cx="444.40" cy="375.90" r="1.25" fill="#111"/>
<rect x="451.20" y="355.10" width="10.80" height="27.30" fill="#1699BA"/>
<line x1="456.60" y1="343.40" x2="456.60" y2="355.10" stroke="#1a1a1a" stroke-width="1.1"/>
<line x1="454.00" y1="343.40" x2="459.20" y2="343.40" stroke="#1a1a1a" stroke-width="1.1"/>
<circle cx="456.50" cy="303.50" r="1.25" fill="#111"/>
<circle cx="456.50" cy="349.00" r="1.25" fill="#111"/>
<circle cx="456.50" cy="359.80" r="1.25" fill="#111"/>
<circle cx="456.50" cy="368.10" r="1.25" fill="#111"/>
<circle cx="454.50" cy="375.70" r="1.25" fill="#111"/>
<circle cx="458.80" cy="374.30" r="1.25" fill="#111"/>
<path d="M407.60,355.40 V251.90 H456.90 V266.00" stroke="#1e1e1e" stroke-width="1.15" fill="none"/>
<circle cx="429.15" cy="248.00" r="1.0" fill="#1a1a1a"/>
<circle cx="432.25" cy="248.00" r="1.0" fill="#1a1a1a"/>
<circle cx="435.35" cy="248.00" r="1.0" fill="#1a1a1a"/>
<path d="M423.90,353.50 V272.10 H456.90 V277.50" stroke="#1e1e1e" stroke-width="1.15" fill="none"/>
<circle cx="440.40" cy="268.00" r="1.0" fill="#1a1a1a"/>
<path d="M440.30,358.30 V291.90 H456.90 V297.70" stroke="#1e1e1e" stroke-width="1.15" fill="none"/>
<circle cx="447.05" cy="288.00" r="1.0" fill="#1a1a1a"/>
<circle cx="450.15" cy="288.00" r="1.0" fill="#1a1a1a"/>
<line x1="105.20" y1="505.10" x2="105.20" y2="600.80" stroke="#111" stroke-width="1.35"/>
<line x1="104.60" y1="600.20" x2="252.20" y2="600.20" stroke="#111" stroke-width="1.35"/>
<line x1="101.40" y1="600.20" x2="105.20" y2="600.20" stroke="#1e1e1e" stroke-width="1.1"/>
<text transform="translate(97.60,603.26) scale(1.03,1)" font-size="8.6" text-anchor="end" fill="#1e1e1e" class="t">0</text>
<line x1="101.40" y1="581.90" x2="105.20" y2="581.90" stroke="#1e1e1e" stroke-width="1.1"/>
<text transform="translate(97.60,584.96) scale(1.03,1)" font-size="8.6" text-anchor="end" fill="#1e1e1e" class="t">20</text>
<line x1="101.40" y1="563.60" x2="105.20" y2="563.60" stroke="#1e1e1e" stroke-width="1.1"/>
<text transform="translate(97.60,566.66) scale(1.03,1)" font-size="8.6" text-anchor="end" fill="#1e1e1e" class="t">40</text>
<line x1="101.40" y1="545.30" x2="105.20" y2="545.30" stroke="#1e1e1e" stroke-width="1.1"/>
<text transform="translate(97.60,548.36) scale(1.03,1)" font-size="8.6" text-anchor="end" fill="#1e1e1e" class="t">60</text>
<line x1="101.40" y1="527.00" x2="105.20" y2="527.00" stroke="#1e1e1e" stroke-width="1.1"/>
<text transform="translate(97.60,530.06) scale(1.03,1)" font-size="8.6" text-anchor="end" fill="#1e1e1e" class="t">80</text>
<line x1="101.40" y1="508.70" x2="105.20" y2="508.70" stroke="#1e1e1e" stroke-width="1.1"/>
<text transform="translate(97.60,511.76) scale(1.03,1)" font-size="8.6" text-anchor="end" fill="#1e1e1e" class="t">100</text>
<line x1="122.90" y1="600.20" x2="122.90" y2="604.00" stroke="#1e1e1e" stroke-width="1.1"/>
<text transform="translate(123.40,612.40) rotate(-45)" font-size="8.5" text-anchor="end" fill="#1e1e1e" class="t">Eosinophils</text>
<line x1="159.20" y1="600.20" x2="159.20" y2="604.00" stroke="#1e1e1e" stroke-width="1.1"/>
<text transform="translate(159.70,612.40) rotate(-45)" font-size="8.5" text-anchor="end" fill="#1e1e1e" class="t">Neutrophils</text>
<line x1="195.80" y1="600.20" x2="195.80" y2="604.00" stroke="#1e1e1e" stroke-width="1.1"/>
<text transform="translate(196.30,612.40) rotate(-45)" font-size="8.5" text-anchor="end" fill="#1e1e1e" class="t">Monocytes</text>
<line x1="232.40" y1="600.20" x2="232.40" y2="604.00" stroke="#1e1e1e" stroke-width="1.1"/>
<text transform="translate(232.90,612.40) rotate(-45)" font-size="8.5" text-anchor="end" fill="#1e1e1e" class="t">Lymphocytes</text>
<rect x="108.90" y="598.30" width="5.40" height="1.90" fill="#C9944E"/>
<circle cx="110.40" cy="598.60" r="1.25" fill="#111"/>
<circle cx="112.20" cy="597.80" r="1.25" fill="#111"/>
<circle cx="113.60" cy="598.80" r="1.25" fill="#111"/>
<rect x="116.70" y="598.60" width="5.40" height="1.60" fill="#74C597"/>
<circle cx="117.60" cy="598.60" r="1.25" fill="#111"/>
<circle cx="119.40" cy="597.90" r="1.25" fill="#111"/>
<circle cx="121.00" cy="598.80" r="1.25" fill="#111"/>
<rect x="124.40" y="597.90" width="5.40" height="2.30" fill="#CB52A3"/>
<circle cx="125.40" cy="598.40" r="1.25" fill="#111"/>
<circle cx="127.10" cy="597.60" r="1.25" fill="#111"/>
<circle cx="128.60" cy="598.60" r="1.25" fill="#111"/>
<rect x="132.20" y="597.60" width="5.40" height="2.60" fill="#1699BA"/>
<circle cx="133.20" cy="598.20" r="1.25" fill="#111"/>
<circle cx="134.90" cy="597.40" r="1.25" fill="#111"/>
<circle cx="136.40" cy="598.30" r="1.25" fill="#111"/>
<rect x="145.20" y="587.70" width="5.40" height="12.50" fill="#C9944E"/>
<line x1="147.90" y1="586.00" x2="147.90" y2="587.70" stroke="#1a1a1a" stroke-width="1.1"/>
<line x1="146.10" y1="586.00" x2="149.70" y2="586.00" stroke="#1a1a1a" stroke-width="1.1"/>
<circle cx="147.40" cy="585.80" r="1.25" fill="#111"/>
<circle cx="146.00" cy="587.80" r="1.25" fill="#111"/>
<circle cx="149.10" cy="587.80" r="1.25" fill="#111"/>
<circle cx="147.40" cy="589.80" r="1.25" fill="#111"/>
<rect x="153.00" y="582.50" width="5.40" height="17.70" fill="#74C597"/>
<line x1="155.70" y1="579.50" x2="155.70" y2="582.50" stroke="#1a1a1a" stroke-width="1.1"/>
<line x1="153.90" y1="579.50" x2="157.50" y2="579.50" stroke="#1a1a1a" stroke-width="1.1"/>
<circle cx="153.70" cy="578.00" r="1.25" fill="#111"/>
<circle cx="157.20" cy="578.00" r="1.25" fill="#111"/>
<circle cx="155.50" cy="580.40" r="1.25" fill="#111"/>
<circle cx="155.50" cy="583.10" r="1.25" fill="#111"/>
<circle cx="155.50" cy="586.40" r="1.25" fill="#111"/>
<rect x="160.70" y="585.00" width="5.40" height="15.20" fill="#CB52A3"/>
<line x1="163.40" y1="583.50" x2="163.40" y2="585.00" stroke="#1a1a1a" stroke-width="1.1"/>
<line x1="161.60" y1="583.50" x2="165.20" y2="583.50" stroke="#1a1a1a" stroke-width="1.1"/>
<circle cx="161.50" cy="582.80" r="1.25" fill="#111"/>
<circle cx="164.90" cy="582.80" r="1.25" fill="#111"/>
<circle cx="162.90" cy="584.70" r="1.25" fill="#111"/>
<circle cx="161.50" cy="586.00" r="1.25" fill="#111"/>
<circle cx="164.90" cy="586.00" r="1.25" fill="#111"/>
<rect x="168.50" y="563.30" width="5.40" height="36.90" fill="#1699BA"/>
<line x1="171.20" y1="553.70" x2="171.20" y2="563.30" stroke="#1a1a1a" stroke-width="1.1"/>
<line x1="169.40" y1="553.70" x2="173.00" y2="553.70" stroke="#1a1a1a" stroke-width="1.1"/>
<circle cx="171.00" cy="542.40" r="1.25" fill="#111"/>
<circle cx="171.00" cy="552.80" r="1.25" fill="#111"/>
<circle cx="171.00" cy="575.70" r="1.25" fill="#111"/>
<circle cx="171.00" cy="579.70" r="1.25" fill="#111"/>
<rect x="181.80" y="593.00" width="5.40" height="7.20" fill="#C9944E"/>
<line x1="184.50" y1="591.50" x2="184.50" y2="593.00" stroke="#1a1a1a" stroke-width="1.1"/>
<line x1="182.70" y1="591.50" x2="186.30" y2="591.50" stroke="#1a1a1a" stroke-width="1.1"/>
<circle cx="183.80" cy="589.90" r="1.25" fill="#111"/>
<circle cx="182.40" cy="593.10" r="1.25" fill="#111"/>
<circle cx="185.20" cy="593.10" r="1.25" fill="#111"/>
<circle cx="183.80" cy="592.00" r="1.25" fill="#111"/>
<rect x="189.60" y="587.30" width="5.40" height="12.90" fill="#74C597"/>
<line x1="192.30" y1="584.50" x2="192.30" y2="587.30" stroke="#1a1a1a" stroke-width="1.1"/>
<line x1="190.50" y1="584.50" x2="194.10" y2="584.50" stroke="#1a1a1a" stroke-width="1.1"/>
<circle cx="192.10" cy="581.60" r="1.25" fill="#111"/>
<circle cx="192.10" cy="585.10" r="1.25" fill="#111"/>
<circle cx="192.10" cy="587.90" r="1.25" fill="#111"/>
<circle cx="190.70" cy="590.00" r="1.25" fill="#111"/>
<circle cx="193.50" cy="590.00" r="1.25" fill="#111"/>
<rect x="197.30" y="591.50" width="5.40" height="8.70" fill="#CB52A3"/>
<line x1="200.00" y1="590.00" x2="200.00" y2="591.50" stroke="#1a1a1a" stroke-width="1.1"/>
<line x1="198.20" y1="590.00" x2="201.80" y2="590.00" stroke="#1a1a1a" stroke-width="1.1"/>
<circle cx="198.50" cy="590.00" r="1.25" fill="#111"/>
<circle cx="201.30" cy="590.00" r="1.25" fill="#111"/>
<circle cx="199.90" cy="592.00" r="1.25" fill="#111"/>
<circle cx="198.80" cy="593.40" r="1.25" fill="#111"/>
<circle cx="200.90" cy="593.40" r="1.25" fill="#111"/>
<rect x="205.10" y="591.50" width="5.40" height="8.70" fill="#1699BA"/>
<line x1="207.80" y1="590.00" x2="207.80" y2="591.50" stroke="#1a1a1a" stroke-width="1.1"/>
<line x1="206.00" y1="590.00" x2="209.60" y2="590.00" stroke="#1a1a1a" stroke-width="1.1"/>
<circle cx="206.40" cy="589.30" r="1.25" fill="#111"/>
<circle cx="209.20" cy="589.00" r="1.25" fill="#111"/>
<circle cx="207.80" cy="591.30" r="1.25" fill="#111"/>
<circle cx="207.10" cy="593.10" r="1.25" fill="#111"/>
<rect x="218.40" y="530.80" width="5.40" height="69.40" fill="#C9944E"/>
<line x1="221.10" y1="529.50" x2="221.10" y2="530.80" stroke="#1a1a1a" stroke-width="1.1"/>
<line x1="219.30" y1="529.50" x2="222.90" y2="529.50" stroke="#1a1a1a" stroke-width="1.1"/>
<circle cx="220.90" cy="526.20" r="1.25" fill="#111"/>
<circle cx="219.60" cy="531.40" r="1.25" fill="#111"/>
<circle cx="222.30" cy="531.40" r="1.25" fill="#111"/>
<circle cx="220.90" cy="528.30" r="1.25" fill="#111"/>
<rect x="226.20" y="542.30" width="5.40" height="57.90" fill="#74C597"/>
<line x1="228.90" y1="540.50" x2="228.90" y2="542.30" stroke="#1a1a1a" stroke-width="1.1"/>
<line x1="227.10" y1="540.50" x2="230.70" y2="540.50" stroke="#1a1a1a" stroke-width="1.1"/>
<circle cx="229.00" cy="536.30" r="1.25" fill="#111"/>
<circle cx="229.00" cy="540.80" r="1.25" fill="#111"/>
<circle cx="229.00" cy="543.50" r="1.25" fill="#111"/>
<circle cx="229.00" cy="546.30" r="1.25" fill="#111"/>
<rect x="233.90" y="535.10" width="5.40" height="65.10" fill="#CB52A3"/>
<line x1="236.60" y1="533.50" x2="236.60" y2="535.10" stroke="#1a1a1a" stroke-width="1.1"/>
<line x1="234.80" y1="533.50" x2="238.40" y2="533.50" stroke="#1a1a1a" stroke-width="1.1"/>
<circle cx="236.40" cy="530.40" r="1.25" fill="#111"/>
<circle cx="236.40" cy="534.50" r="1.25" fill="#111"/>
<circle cx="236.40" cy="538.00" r="1.25" fill="#111"/>
<rect x="241.70" y="557.30" width="5.40" height="42.90" fill="#1699BA"/>
<line x1="244.40" y1="549.10" x2="244.40" y2="557.30" stroke="#1a1a1a" stroke-width="1.1"/>
<line x1="242.60" y1="549.10" x2="246.20" y2="549.10" stroke="#1a1a1a" stroke-width="1.1"/>
<circle cx="244.20" cy="542.20" r="1.25" fill="#111"/>
<circle cx="244.20" cy="544.90" r="1.25" fill="#111"/>
<circle cx="244.20" cy="566.40" r="1.25" fill="#111"/>
<circle cx="244.20" cy="575.40" r="1.25" fill="#111"/>
<text transform="translate(179.20,449.80)" font-size="10.9" text-anchor="middle" fill="#1e1e1e">Blood smear</text>
<text transform="translate(179.70,462.70)" font-size="10.9" text-anchor="middle" fill="#1e1e1e">White blood cells percentage</text>
<text transform="translate(77.6,552.0) rotate(-90)" font-size="10.3" text-anchor="middle" fill="#1e1e1e" class="w" textLength="34.6" lengthAdjust="spacingAndGlyphs">% of WBC</text>
<path d="M147.30,584.40 V476.70 H171.30 V481.90" stroke="#1e1e1e" stroke-width="1.15" fill="none"/>
<circle cx="154.65" cy="472.40" r="1.0" fill="#1a1a1a"/>
<circle cx="157.75" cy="472.40" r="1.0" fill="#1a1a1a"/>
<circle cx="160.85" cy="472.40" r="1.0" fill="#1a1a1a"/>
<circle cx="163.95" cy="472.40" r="1.0" fill="#1a1a1a"/>
<path d="M155.00,500.80 V495.60 H171.30 V500.80" stroke="#1e1e1e" stroke-width="1.15" fill="none"/>
<circle cx="161.60" cy="491.50" r="1.0" fill="#1a1a1a"/>
<circle cx="164.70" cy="491.50" r="1.0" fill="#1a1a1a"/>
<path d="M162.50,581.50 V515.20 H171.30 V521.00" stroke="#1e1e1e" stroke-width="1.15" fill="none"/>
<circle cx="163.80" cy="511.00" r="1.0" fill="#1a1a1a"/>
<circle cx="166.90" cy="511.00" r="1.0" fill="#1a1a1a"/>
<circle cx="170.00" cy="511.00" r="1.0" fill="#1a1a1a"/>
<path d="M220.50,482.10 V477.00 H244.40 V482.10" stroke="#1e1e1e" stroke-width="1.15" fill="none"/>
<circle cx="227.80" cy="472.40" r="1.0" fill="#1a1a1a"/>
<circle cx="230.90" cy="472.40" r="1.0" fill="#1a1a1a"/>
<circle cx="234.00" cy="472.40" r="1.0" fill="#1a1a1a"/>
<circle cx="237.10" cy="472.40" r="1.0" fill="#1a1a1a"/>
<path d="M220.50,520.60 V496.10 H227.40 V501.20" stroke="#1e1e1e" stroke-width="1.15" fill="none"/>
<circle cx="223.95" cy="491.80" r="1.0" fill="#1a1a1a"/>
<path d="M230.80,501.20 V496.10 H244.40 V501.20" stroke="#1e1e1e" stroke-width="1.15" fill="none"/>
<circle cx="237.60" cy="491.80" r="1.0" fill="#1a1a1a"/>
<path d="M236.20,532.50 V515.40 H244.40 V536.80" stroke="#1e1e1e" stroke-width="1.15" fill="none"/>
<circle cx="235.65" cy="510.80" r="1.0" fill="#1a1a1a"/>
<circle cx="238.75" cy="510.80" r="1.0" fill="#1a1a1a"/>
<circle cx="241.85" cy="510.80" r="1.0" fill="#1a1a1a"/>
<circle cx="244.95" cy="510.80" r="1.0" fill="#1a1a1a"/>
<line x1="264.20" y1="526.20" x2="280.40" y2="526.20" stroke="#C9944E" stroke-width="1.2"/>
<path d="M269.5,524.0 L275.1,524.0 L272.3,528.8000000000001 Z" fill="#C9944E"/>
<line x1="264.20" y1="539.30" x2="280.40" y2="539.30" stroke="#74C597" stroke-width="1.2"/>
<rect x="269.90" y="536.90" width="4.80" height="4.80" fill="#74C597"/>
<line x1="264.20" y1="553.00" x2="280.40" y2="553.00" stroke="#CB52A3" stroke-width="1.2"/>
<path d="M269.5,555.2 L275.1,555.2 L272.3,550.4 Z" fill="#CB52A3"/>
<line x1="264.20" y1="565.90" x2="280.40" y2="565.90" stroke="#1699BA" stroke-width="1.2"/>
<circle cx="272.30" cy="565.90" r="2.6" fill="#1699BA"/>
<text x="284.6" y="529.10" font-size="8.2" fill="#1e1e1e" class="t"><tspan>Control</tspan></text>
<text x="284.6" y="542.20" font-size="8.2" fill="#1e1e1e" class="t"><tspan>Asxl1</tspan><tspan font-size="5.4" dy="-3.6">Y588X</tspan><tspan dy="3.6"></tspan></text>
<text x="284.6" y="555.90" font-size="8.2" fill="#1e1e1e" class="t"><tspan>Csf3r</tspan><tspan font-size="5.4" dy="-3.6">T621I</tspan><tspan dy="3.6"></tspan></text>
<text x="284.6" y="568.80" font-size="8.2" fill="#1e1e1e" class="t"><tspan>Asxl1</tspan><tspan font-size="5.4" dy="-3.6">Y588X</tspan><tspan dy="3.6"></tspan><tspan>/Csf3r</tspan><tspan font-size="5.4" dy="-3.6">T621I</tspan><tspan dy="3.6"></tspan></text>
<line x1="264.20" y1="578.80" x2="280.40" y2="578.80" stroke="#1e1e1e" stroke-width="1.1" stroke-dasharray="1 1.2"/>
<text x="284.6" y="581.70" font-size="8.2" fill="#1e1e1e" class="t"><tspan>Normal limits</tspan></text>
<line x1="51.60" y1="729.20" x2="51.60" y2="806.00" stroke="#111" stroke-width="1.35"/>
<line x1="51.60" y1="704.70" x2="51.60" y2="724.40" stroke="#111" stroke-width="1.35"/>
<line x1="49.20" y1="724.00" x2="53.60" y2="724.60" stroke="#111" stroke-width="1.1"/>
<line x1="49.20" y1="729.40" x2="53.80" y2="729.40" stroke="#111" stroke-width="1.2"/>
<line x1="50.70" y1="805.40" x2="279.60" y2="805.40" stroke="#111" stroke-width="1.35"/>
<line x1="47.80" y1="729.70" x2="51.60" y2="729.70" stroke="#1e1e1e" stroke-width="1.1"/>
<text transform="translate(43.70,732.60) scale(1.03,1)" font-size="8.6" text-anchor="end" fill="#1e1e1e" class="t">15</text>
<line x1="47.80" y1="755.20" x2="51.60" y2="755.20" stroke="#1e1e1e" stroke-width="1.1"/>
<text transform="translate(43.70,758.10) scale(1.03,1)" font-size="8.6" text-anchor="end" fill="#1e1e1e" class="t">10</text>
<line x1="47.80" y1="779.90" x2="51.60" y2="779.90" stroke="#1e1e1e" stroke-width="1.1"/>
<text transform="translate(43.70,782.80) scale(1.03,1)" font-size="8.6" text-anchor="end" fill="#1e1e1e" class="t">5</text>
<line x1="47.80" y1="805.40" x2="51.60" y2="805.40" stroke="#1e1e1e" stroke-width="1.1"/>
<text transform="translate(43.70,808.30) scale(1.03,1)" font-size="8.6" text-anchor="end" fill="#1e1e1e" class="t">0</text>
<line x1="48.00" y1="708.50" x2="51.60" y2="708.50" stroke="#1e1e1e" stroke-width="1.1"/>
<text transform="translate(43.90,711.25)" font-size="7.9" text-anchor="end" fill="#1e1e1e" class="t">60</text>
<line x1="48.00" y1="715.50" x2="51.60" y2="715.50" stroke="#1e1e1e" stroke-width="1.1"/>
<text transform="translate(43.90,718.25)" font-size="7.9" text-anchor="end" fill="#1e1e1e" class="t">40</text>
<line x1="48.00" y1="722.50" x2="51.60" y2="722.50" stroke="#1e1e1e" stroke-width="1.1"/>
<text transform="translate(43.90,725.25)" font-size="7.9" text-anchor="end" fill="#1e1e1e" class="t">20</text>
<line x1="51.30" y1="805.40" x2="51.30" y2="809.20" stroke="#1e1e1e" stroke-width="1.1"/>
<text transform="translate(51.30,821.00) scale(1.03,1)" font-size="8.6" text-anchor="middle" fill="#1e1e1e" class="t">0</text>
<line x1="96.16" y1="805.40" x2="96.16" y2="809.20" stroke="#1e1e1e" stroke-width="1.1"/>
<text transform="translate(96.16,821.00) scale(1.03,1)" font-size="8.6" text-anchor="middle" fill="#1e1e1e" class="t">20</text>
<line x1="141.02" y1="805.40" x2="141.02" y2="809.20" stroke="#1e1e1e" stroke-width="1.1"/>
<text transform="translate(141.02,821.00) scale(1.03,1)" font-size="8.6" text-anchor="middle" fill="#1e1e1e" class="t">40</text>
<line x1="185.88" y1="805.40" x2="185.88" y2="809.20" stroke="#1e1e1e" stroke-width="1.1"/>
<text transform="translate(185.88,821.00) scale(1.03,1)" font-size="8.6" text-anchor="middle" fill="#1e1e1e" class="t">60</text>
<line x1="230.74" y1="805.40" x2="230.74" y2="809.20" stroke="#1e1e1e" stroke-width="1.1"/>
<text transform="translate(230.74,821.00) scale(1.03,1)" font-size="8.6" text-anchor="middle" fill="#1e1e1e" class="t">80</text>
<line x1="275.60" y1="805.40" x2="275.60" y2="809.20" stroke="#1e1e1e" stroke-width="1.1"/>
<text transform="translate(275.60,821.00) scale(1.03,1)" font-size="8.6" text-anchor="middle" fill="#1e1e1e" class="t">100</text>
<text transform="translate(166.00,698.30)" font-size="10.9" text-anchor="middle" fill="#1e1e1e">Peripheral blood neutrophil counts</text>
<text x="165.50" y="836.80" font-size="10.8" text-anchor="middle" fill="#1e1e1e" class="c" textLength="87.5" lengthAdjust="spacingAndGlyphs">Weeks post Cre induction</text>
<text transform="translate(26.60,755.00) rotate(-90)" font-size="10.3" text-anchor="middle" fill="#1e1e1e" class="c" textLength="41.3" lengthAdjust="spacingAndGlyphs">10<tspan font-size="6.6" dy="-4.9">3</tspan><tspan dy="4.9"> cells/µL</tspan></text>
<line x1="53.00" y1="792.60" x2="274.40" y2="792.60" stroke="#9a8590" stroke-width="1.0" stroke-dasharray="1 1.3"/>
<line x1="53.00" y1="803.20" x2="274.40" y2="803.20" stroke="#9a8f8f" stroke-width="1.0" stroke-dasharray="1 1.3"/>
<path d="M60.27,797.85 L69.24,797.26 L78.22,797.38 L87.19,800.51 L96.16,801.37 L100.65,800.82 L105.13,801.42 L109.62,801.12 L114.10,801.50 L118.59,800.94 L123.08,800.13 L132.05,800.48 L141.02,800.85 L149.99,801.16 L158.96,799.94 L167.94,797.91 L176.91,798.16 L185.88,801.10 L194.85,802.88 L203.82,794.50 L212.80,793.84 L221.77,797.51 L230.74,799.47 L239.71,797.59 L248.68,797.33 L257.66,797.48" stroke="#d9b58a" stroke-width="0.8" fill="none" stroke-linejoin="round"/>
<path d="M58.95,796.65 L61.59,796.65 L60.27,799.29 Z" fill="#c9944e"/>
<path d="M67.92,796.06 L70.56,796.06 L69.24,798.70 Z" fill="#c9944e"/>
<path d="M76.90,796.18 L79.54,796.18 L78.22,798.82 Z" fill="#c9944e"/>
<path d="M85.87,799.31 L88.51,799.31 L87.19,801.95 Z" fill="#c9944e"/>
<path d="M94.84,800.17 L97.48,800.17 L96.16,802.81 Z" fill="#c9944e"/>
<path d="M99.33,799.62 L101.97,799.62 L100.65,802.26 Z" fill="#c9944e"/>
<path d="M103.81,800.22 L106.45,800.22 L105.13,802.86 Z" fill="#c9944e"/>
<path d="M108.30,799.92 L110.94,799.92 L109.62,802.56 Z" fill="#c9944e"/>
<path d="M112.78,800.30 L115.42,800.30 L114.10,802.94 Z" fill="#c9944e"/>
<path d="M117.27,799.74 L119.91,799.74 L118.59,802.38 Z" fill="#c9944e"/>
<path d="M121.76,798.93 L124.40,798.93 L123.08,801.57 Z" fill="#c9944e"/>
<path d="M130.73,799.28 L133.37,799.28 L132.05,801.92 Z" fill="#c9944e"/>
<path d="M139.70,799.65 L142.34,799.65 L141.02,802.29 Z" fill="#c9944e"/>
<path d="M148.67,799.96 L151.31,799.96 L149.99,802.60 Z" fill="#c9944e"/>
<path d="M157.64,798.74 L160.28,798.74 L158.96,801.38 Z" fill="#c9944e"/>
<path d="M166.62,796.71 L169.26,796.71 L167.94,799.35 Z" fill="#c9944e"/>
<path d="M175.59,796.96 L178.23,796.96 L176.91,799.60 Z" fill="#c9944e"/>
<path d="M184.56,799.90 L187.20,799.90 L185.88,802.54 Z" fill="#c9944e"/>
<path d="M193.53,801.68 L196.17,801.68 L194.85,804.32 Z" fill="#c9944e"/>
<path d="M202.50,793.30 L205.14,793.30 L203.82,795.94 Z" fill="#c9944e"/>
<path d="M211.48,792.64 L214.12,792.64 L212.80,795.28 Z" fill="#c9944e"/>
<path d="M220.45,796.31 L223.09,796.31 L221.77,798.95 Z" fill="#c9944e"/>
<path d="M229.42,798.27 L232.06,798.27 L230.74,800.91 Z" fill="#c9944e"/>
<path d="M238.39,796.39 L241.03,796.39 L239.71,799.03 Z" fill="#c9944e"/>
<path d="M247.36,796.13 L250.00,796.13 L248.68,798.77 Z" fill="#c9944e"/>
<path d="M256.34,796.28 L258.98,796.28 L257.66,798.92 Z" fill="#c9944e"/>
<path d="M60.27,797.51 L69.24,797.96 L78.22,799.04 L87.19,800.65 L96.16,801.45 L100.65,802.50 L105.13,802.06 L109.62,801.99 L114.10,802.88 L118.59,801.49 L123.08,802.88 L132.05,800.57 L141.02,801.65 L149.99,799.33 L158.96,799.04 L167.94,797.57 L176.91,799.05 L185.88,799.62 L194.85,801.64 L203.82,799.01" stroke="#d9b58a" stroke-width="0.8" fill="none" stroke-linejoin="round"/>
<path d="M58.95,796.31 L61.59,796.31 L60.27,798.95 Z" fill="#c9944e"/>
<path d="M67.92,796.76 L70.56,796.76 L69.24,799.40 Z" fill="#c9944e"/>
<path d="M76.90,797.84 L79.54,797.84 L78.22,800.48 Z" fill="#c9944e"/>
<path d="M85.87,799.45 L88.51,799.45 L87.19,802.09 Z" fill="#c9944e"/>
<path d="M94.84,800.25 L97.48,800.25 L96.16,802.89 Z" fill="#c9944e"/>
<path d="M99.33,801.30 L101.97,801.30 L100.65,803.94 Z" fill="#c9944e"/>
<path d="M103.81,800.86 L106.45,800.86 L105.13,803.50 Z" fill="#c9944e"/>
<path d="M108.30,800.79 L110.94,800.79 L109.62,803.43 Z" fill="#c9944e"/>
<path d="M112.78,801.68 L115.42,801.68 L114.10,804.32 Z" fill="#c9944e"/>
<path d="M117.27,800.29 L119.91,800.29 L118.59,802.93 Z" fill="#c9944e"/>
<path d="M121.76,801.68 L124.40,801.68 L123.08,804.32 Z" fill="#c9944e"/>
<path d="M130.73,799.37 L133.37,799.37 L132.05,802.01 Z" fill="#c9944e"/>
<path d="M139.70,800.45 L142.34,800.45 L141.02,803.09 Z" fill="#c9944e"/>
<path d="M148.67,798.13 L151.31,798.13 L149.99,800.77 Z" fill="#c9944e"/>
<path d="M157.64,797.84 L160.28,797.84 L158.96,800.48 Z" fill="#c9944e"/>
<path d="M166.62,796.37 L169.26,796.37 L167.94,799.01 Z" fill="#c9944e"/>
<path d="M175.59,797.85 L178.23,797.85 L176.91,800.49 Z" fill="#c9944e"/>
<path d="M184.56,798.42 L187.20,798.42 L185.88,801.06 Z" fill="#c9944e"/>
<path d="M193.53,800.44 L196.17,800.44 L194.85,803.08 Z" fill="#c9944e"/>
<path d="M202.50,797.81 L205.14,797.81 L203.82,800.45 Z" fill="#c9944e"/>
<path d="M60.27,799.88 L69.24,799.78 L78.22,800.40 L87.19,801.16 L96.16,802.52 L100.65,798.95 L105.13,802.88 L109.62,799.77 L114.10,799.86 L118.59,800.45 L123.08,800.61 L132.05,802.88 L141.02,801.66 L149.99,798.97 L158.96,802.88 L167.94,800.29 L176.91,799.64 L185.88,800.03 L194.85,799.63 L203.82,794.84 L212.80,794.96 L221.77,797.30 L230.74,800.43 L239.71,795.70 L248.68,800.35 L257.66,801.83" stroke="#d9b58a" stroke-width="0.8" fill="none" stroke-linejoin="round"/>
<path d="M58.95,798.68 L61.59,798.68 L60.27,801.32 Z" fill="#c9944e"/>
<path d="M67.92,798.58 L70.56,798.58 L69.24,801.22 Z" fill="#c9944e"/>
<path d="M76.90,799.20 L79.54,799.20 L78.22,801.84 Z" fill="#c9944e"/>
<path d="M85.87,799.96 L88.51,799.96 L87.19,802.60 Z" fill="#c9944e"/>
<path d="M94.84,801.32 L97.48,801.32 L96.16,803.96 Z" fill="#c9944e"/>
<path d="M99.33,797.75 L101.97,797.75 L100.65,800.39 Z" fill="#c9944e"/>
<path d="M103.81,801.68 L106.45,801.68 L105.13,804.32 Z" fill="#c9944e"/>
<path d="M108.30,798.57 L110.94,798.57 L109.62,801.21 Z" fill="#c9944e"/>
<path d="M112.78,798.66 L115.42,798.66 L114.10,801.30 Z" fill="#c9944e"/>
<path d="M117.27,799.25 L119.91,799.25 L118.59,801.89 Z" fill="#c9944e"/>
<path d="M121.76,799.41 L124.40,799.41 L123.08,802.05 Z" fill="#c9944e"/>
<path d="M130.73,801.68 L133.37,801.68 L132.05,804.32 Z" fill="#c9944e"/>
<path d="M139.70,800.46 L142.34,800.46 L141.02,803.10 Z" fill="#c9944e"/>
<path d="M148.67,797.77 L151.31,797.77 L149.99,800.41 Z" fill="#c9944e"/>
<path d="M157.64,801.68 L160.28,801.68 L158.96,804.32 Z" fill="#c9944e"/>
<path d="M166.62,799.09 L169.26,799.09 L167.94,801.73 Z" fill="#c9944e"/>
<path d="M175.59,798.44 L178.23,798.44 L176.91,801.08 Z" fill="#c9944e"/>
<path d="M184.56,798.83 L187.20,798.83 L185.88,801.47 Z" fill="#c9944e"/>
<path d="M193.53,798.43 L196.17,798.43 L194.85,801.07 Z" fill="#c9944e"/>
<path d="M202.50,793.64 L205.14,793.64 L203.82,796.28 Z" fill="#c9944e"/>
<path d="M211.48,793.76 L214.12,793.76 L212.80,796.40 Z" fill="#c9944e"/>
<path d="M220.45,796.10 L223.09,796.10 L221.77,798.74 Z" fill="#c9944e"/>
<path d="M229.42,799.23 L232.06,799.23 L230.74,801.87 Z" fill="#c9944e"/>
<path d="M238.39,794.50 L241.03,794.50 L239.71,797.14 Z" fill="#c9944e"/>
<path d="M247.36,799.15 L250.00,799.15 L248.68,801.79 Z" fill="#c9944e"/>
<path d="M256.34,800.63 L258.98,800.63 L257.66,803.27 Z" fill="#c9944e"/>
<path d="M60.27,798.11 L69.24,800.41 L78.22,797.80 L87.19,801.49 L96.16,802.10 L100.65,801.94 L105.13,800.93 L109.62,800.21 L114.10,801.19 L118.59,802.23 L123.08,799.98 L132.05,801.76 L141.02,800.55 L149.99,798.80 L158.96,800.52 L167.94,799.41 L176.91,802.38 L185.88,799.41 L194.85,801.29 L203.82,802.88 L212.80,800.21 L221.77,801.57 L230.74,798.95 L239.71,797.94 L248.68,796.73 L257.66,795.78" stroke="#d9b58a" stroke-width="0.8" fill="none" stroke-linejoin="round"/>
<path d="M58.95,796.91 L61.59,796.91 L60.27,799.55 Z" fill="#c9944e"/>
<path d="M67.92,799.21 L70.56,799.21 L69.24,801.85 Z" fill="#c9944e"/>
<path d="M76.90,796.60 L79.54,796.60 L78.22,799.24 Z" fill="#c9944e"/>
<path d="M85.87,800.29 L88.51,800.29 L87.19,802.93 Z" fill="#c9944e"/>
<path d="M94.84,800.90 L97.48,800.90 L96.16,803.54 Z" fill="#c9944e"/>
<path d="M99.33,800.74 L101.97,800.74 L100.65,803.38 Z" fill="#c9944e"/>
<path d="M103.81,799.73 L106.45,799.73 L105.13,802.37 Z" fill="#c9944e"/>
<path d="M108.30,799.01 L110.94,799.01 L109.62,801.65 Z" fill="#c9944e"/>
<path d="M112.78,799.99 L115.42,799.99 L114.10,802.63 Z" fill="#c9944e"/>
<path d="M117.27,801.03 L119.91,801.03 L118.59,803.67 Z" fill="#c9944e"/>
<path d="M121.76,798.78 L124.40,798.78 L123.08,801.42 Z" fill="#c9944e"/>
<path d="M130.73,800.56 L133.37,800.56 L132.05,803.20 Z" fill="#c9944e"/>
<path d="M139.70,799.35 L142.34,799.35 L141.02,801.99 Z" fill="#c9944e"/>
<path d="M148.67,797.60 L151.31,797.60 L149.99,800.24 Z" fill="#c9944e"/>
<path d="M157.64,799.32 L160.28,799.32 L158.96,801.96 Z" fill="#c9944e"/>
<path d="M166.62,798.21 L169.26,798.21 L167.94,800.85 Z" fill="#c9944e"/>
<path d="M175.59,801.18 L178.23,801.18 L176.91,803.82 Z" fill="#c9944e"/>
<path d="M184.56,798.21 L187.20,798.21 L185.88,800.85 Z" fill="#c9944e"/>
<path d="M193.53,800.09 L196.17,800.09 L194.85,802.73 Z" fill="#c9944e"/>
<path d="M202.50,801.68 L205.14,801.68 L203.82,804.32 Z" fill="#c9944e"/>
<path d="M211.48,799.01 L214.12,799.01 L212.80,801.65 Z" fill="#c9944e"/>
<path d="M220.45,800.37 L223.09,800.37 L221.77,803.01 Z" fill="#c9944e"/>
<path d="M229.42,797.75 L232.06,797.75 L230.74,800.39 Z" fill="#c9944e"/>
<path d="M238.39,796.74 L241.03,796.74 L239.71,799.38 Z" fill="#c9944e"/>
<path d="M247.36,795.53 L250.00,795.53 L248.68,798.17 Z" fill="#c9944e"/>
<path d="M256.34,794.58 L258.98,794.58 L257.66,797.22 Z" fill="#c9944e"/>
<path d="M60.27,798.80 L69.24,800.32 L78.22,799.54 L87.19,800.50 L96.16,802.60 L100.65,801.44 L105.13,801.35 L109.62,800.59 L114.10,799.39 L118.59,802.88 L123.08,802.13 L132.05,802.62 L141.02,802.88 L149.99,799.39 L158.96,797.81 L167.94,801.15 L176.91,802.01 L185.88,801.00 L194.85,801.59 L203.82,797.13 L212.80,800.55 L221.77,798.03 L230.74,796.11 L239.71,799.38 L248.68,796.19 L257.66,796.70" stroke="#d9b58a" stroke-width="0.8" fill="none" stroke-linejoin="round"/>
<path d="M58.95,797.60 L61.59,797.60 L60.27,800.24 Z" fill="#c9944e"/>
<path d="M67.92,799.12 L70.56,799.12 L69.24,801.76 Z" fill="#c9944e"/>
<path d="M76.90,798.34 L79.54,798.34 L78.22,800.98 Z" fill="#c9944e"/>
<path d="M85.87,799.30 L88.51,799.30 L87.19,801.94 Z" fill="#c9944e"/>
<path d="M94.84,801.40 L97.48,801.40 L96.16,804.04 Z" fill="#c9944e"/>
<path d="M99.33,800.24 L101.97,800.24 L100.65,802.88 Z" fill="#c9944e"/>
<path d="M103.81,800.15 L106.45,800.15 L105.13,802.79 Z" fill="#c9944e"/>
<path d="M108.30,799.39 L110.94,799.39 L109.62,802.03 Z" fill="#c9944e"/>
<path d="M112.78,798.19 L115.42,798.19 L114.10,800.83 Z" fill="#c9944e"/>
<path d="M117.27,801.68 L119.91,801.68 L118.59,804.32 Z" fill="#c9944e"/>
<path d="M121.76,800.93 L124.40,800.93 L123.08,803.57 Z" fill="#c9944e"/>
<path d="M130.73,801.42 L133.37,801.42 L132.05,804.06 Z" fill="#c9944e"/>
<path d="M139.70,801.68 L142.34,801.68 L141.02,804.32 Z" fill="#c9944e"/>
<path d="M148.67,798.19 L151.31,798.19 L149.99,800.83 Z" fill="#c9944e"/>
<path d="M157.64,796.61 L160.28,796.61 L158.96,799.25 Z" fill="#c9944e"/>
<path d="M166.62,799.95 L169.26,799.95 L167.94,802.59 Z" fill="#c9944e"/>
<path d="M175.59,800.81 L178.23,800.81 L176.91,803.45 Z" fill="#c9944e"/>
<path d="M184.56,799.80 L187.20,799.80 L185.88,802.44 Z" fill="#c9944e"/>
<path d="M193.53,800.39 L196.17,800.39 L194.85,803.03 Z" fill="#c9944e"/>
<path d="M202.50,795.93 L205.14,795.93 L203.82,798.57 Z" fill="#c9944e"/>
<path d="M211.48,799.35 L214.12,799.35 L212.80,801.99 Z" fill="#c9944e"/>
<path d="M220.45,796.83 L223.09,796.83 L221.77,799.47 Z" fill="#c9944e"/>
<path d="M229.42,794.91 L232.06,794.91 L230.74,797.55 Z" fill="#c9944e"/>
<path d="M238.39,798.18 L241.03,798.18 L239.71,800.82 Z" fill="#c9944e"/>
<path d="M247.36,794.99 L250.00,794.99 L248.68,797.63 Z" fill="#c9944e"/>
<path d="M256.34,795.50 L258.98,795.50 L257.66,798.14 Z" fill="#c9944e"/>
<path d="M60.27,801.34 L69.24,800.24 L78.22,797.03 L87.19,801.59 L96.16,800.42 L100.65,800.79 L105.13,802.23 L109.62,800.01 L114.10,799.66 L118.59,801.53 L123.08,801.65 L132.05,801.02 L141.02,802.88 L149.99,799.99 L158.96,801.87 L167.94,800.17 L176.91,798.54 L185.88,798.04 L194.85,799.28 L203.82,802.25 L212.80,800.28 L221.77,802.22 L230.74,797.19 L239.71,792.52 L248.68,801.84 L257.66,795.85" stroke="#d9b58a" stroke-width="0.8" fill="none" stroke-linejoin="round"/>
<path d="M58.95,800.14 L61.59,800.14 L60.27,802.78 Z" fill="#c9944e"/>
<path d="M67.92,799.04 L70.56,799.04 L69.24,801.68 Z" fill="#c9944e"/>
<path d="M76.90,795.83 L79.54,795.83 L78.22,798.47 Z" fill="#c9944e"/>
<path d="M85.87,800.39 L88.51,800.39 L87.19,803.03 Z" fill="#c9944e"/>
<path d="M94.84,799.22 L97.48,799.22 L96.16,801.86 Z" fill="#c9944e"/>
<path d="M99.33,799.59 L101.97,799.59 L100.65,802.23 Z" fill="#c9944e"/>
<path d="M103.81,801.03 L106.45,801.03 L105.13,803.67 Z" fill="#c9944e"/>
<path d="M108.30,798.81 L110.94,798.81 L109.62,801.45 Z" fill="#c9944e"/>
<path d="M112.78,798.46 L115.42,798.46 L114.10,801.10 Z" fill="#c9944e"/>
<path d="M117.27,800.33 L119.91,800.33 L118.59,802.97 Z" fill="#c9944e"/>
<path d="M121.76,800.45 L124.40,800.45 L123.08,803.09 Z" fill="#c9944e"/>
<path d="M130.73,799.82 L133.37,799.82 L132.05,802.46 Z" fill="#c9944e"/>
<path d="M139.70,801.68 L142.34,801.68 L141.02,804.32 Z" fill="#c9944e"/>
<path d="M148.67,798.79 L151.31,798.79 L149.99,801.43 Z" fill="#c9944e"/>
<path d="M157.64,800.67 L160.28,800.67 L158.96,803.31 Z" fill="#c9944e"/>
<path d="M166.62,798.97 L169.26,798.97 L167.94,801.61 Z" fill="#c9944e"/>
<path d="M175.59,797.34 L178.23,797.34 L176.91,799.98 Z" fill="#c9944e"/>
<path d="M184.56,796.84 L187.20,796.84 L185.88,799.48 Z" fill="#c9944e"/>
<path d="M193.53,798.08 L196.17,798.08 L194.85,800.72 Z" fill="#c9944e"/>
<path d="M202.50,801.05 L205.14,801.05 L203.82,803.69 Z" fill="#c9944e"/>
<path d="M211.48,799.08 L214.12,799.08 L212.80,801.72 Z" fill="#c9944e"/>
<path d="M220.45,801.02 L223.09,801.02 L221.77,803.66 Z" fill="#c9944e"/>
<path d="M229.42,795.99 L232.06,795.99 L230.74,798.63 Z" fill="#c9944e"/>
<path d="M238.39,791.32 L241.03,791.32 L239.71,793.96 Z" fill="#c9944e"/>
<path d="M247.36,800.64 L250.00,800.64 L248.68,803.28 Z" fill="#c9944e"/>
<path d="M256.34,794.65 L258.98,794.65 L257.66,797.29 Z" fill="#c9944e"/>
<path d="M60.27,800.10 L69.24,796.92 L78.22,796.47 L87.19,799.95 L96.16,802.88 L100.65,801.39 L105.13,801.60 L109.62,800.49 L114.10,802.38 L118.59,801.45 L123.08,802.11 L132.05,802.27 L141.02,800.66 L149.99,802.88 L158.96,799.91 L167.94,799.12 L176.91,802.88 L185.88,798.49 L194.85,798.09 L203.82,796.02 L212.80,800.09 L221.77,802.88 L230.74,798.31 L239.71,802.13 L248.68,797.78" stroke="#d9b58a" stroke-width="0.8" fill="none" stroke-linejoin="round"/>
<path d="M58.95,798.90 L61.59,798.90 L60.27,801.54 Z" fill="#c9944e"/>
<path d="M67.92,795.72 L70.56,795.72 L69.24,798.36 Z" fill="#c9944e"/>
<path d="M76.90,795.27 L79.54,795.27 L78.22,797.91 Z" fill="#c9944e"/>
<path d="M85.87,798.75 L88.51,798.75 L87.19,801.39 Z" fill="#c9944e"/>
<path d="M94.84,801.68 L97.48,801.68 L96.16,804.32 Z" fill="#c9944e"/>
<path d="M99.33,800.19 L101.97,800.19 L100.65,802.83 Z" fill="#c9944e"/>
<path d="M103.81,800.40 L106.45,800.40 L105.13,803.04 Z" fill="#c9944e"/>
<path d="M108.30,799.29 L110.94,799.29 L109.62,801.93 Z" fill="#c9944e"/>
<path d="M112.78,801.18 L115.42,801.18 L114.10,803.82 Z" fill="#c9944e"/>
<path d="M117.27,800.25 L119.91,800.25 L118.59,802.89 Z" fill="#c9944e"/>
<path d="M121.76,800.91 L124.40,800.91 L123.08,803.55 Z" fill="#c9944e"/>
<path d="M130.73,801.07 L133.37,801.07 L132.05,803.71 Z" fill="#c9944e"/>
<path d="M139.70,799.46 L142.34,799.46 L141.02,802.10 Z" fill="#c9944e"/>
<path d="M148.67,801.68 L151.31,801.68 L149.99,804.32 Z" fill="#c9944e"/>
<path d="M157.64,798.71 L160.28,798.71 L158.96,801.35 Z" fill="#c9944e"/>
<path d="M166.62,797.92 L169.26,797.92 L167.94,800.56 Z" fill="#c9944e"/>
<path d="M175.59,801.68 L178.23,801.68 L176.91,804.32 Z" fill="#c9944e"/>
<path d="M184.56,797.29 L187.20,797.29 L185.88,799.93 Z" fill="#c9944e"/>
<path d="M193.53,796.89 L196.17,796.89 L194.85,799.53 Z" fill="#c9944e"/>
<path d="M202.50,794.82 L205.14,794.82 L203.82,797.46 Z" fill="#c9944e"/>
<path d="M211.48,798.89 L214.12,798.89 L212.80,801.53 Z" fill="#c9944e"/>
<path d="M220.45,801.68 L223.09,801.68 L221.77,804.32 Z" fill="#c9944e"/>
<path d="M229.42,797.11 L232.06,797.11 L230.74,799.75 Z" fill="#c9944e"/>
<path d="M238.39,800.93 L241.03,800.93 L239.71,803.57 Z" fill="#c9944e"/>
<path d="M247.36,796.58 L250.00,796.58 L248.68,799.22 Z" fill="#c9944e"/>
<path d="M60.27,797.09 L69.24,798.33 L78.22,801.99 L87.19,802.87 L96.16,798.67 L100.65,800.66 L105.13,800.86 L109.62,802.10 L114.10,800.92 L118.59,802.88 L123.08,800.76 L132.05,801.16 L141.02,801.15 L149.99,798.99 L158.96,801.23 L167.94,802.44 L176.91,802.88 L185.88,799.08 L194.85,797.21 L203.82,799.54 L212.80,800.89 L221.77,796.82 L230.74,800.99 L239.71,799.87 L248.68,799.98 L257.66,794.90" stroke="#e08fc4" stroke-width="0.8" fill="none" stroke-linejoin="round"/>
<path d="M58.95,798.29 L61.59,798.29 L60.27,795.65 Z" fill="#cf5aa8"/>
<path d="M67.92,799.53 L70.56,799.53 L69.24,796.89 Z" fill="#cf5aa8"/>
<path d="M76.90,803.19 L79.54,803.19 L78.22,800.55 Z" fill="#cf5aa8"/>
<path d="M85.87,804.07 L88.51,804.07 L87.19,801.43 Z" fill="#cf5aa8"/>
<path d="M94.84,799.87 L97.48,799.87 L96.16,797.23 Z" fill="#cf5aa8"/>
<path d="M99.33,801.86 L101.97,801.86 L100.65,799.22 Z" fill="#cf5aa8"/>
<path d="M103.81,802.06 L106.45,802.06 L105.13,799.42 Z" fill="#cf5aa8"/>
<path d="M108.30,803.30 L110.94,803.30 L109.62,800.66 Z" fill="#cf5aa8"/>
<path d="M112.78,802.12 L115.42,802.12 L114.10,799.48 Z" fill="#cf5aa8"/>
<path d="M117.27,804.08 L119.91,804.08 L118.59,801.44 Z" fill="#cf5aa8"/>
<path d="M121.76,801.96 L124.40,801.96 L123.08,799.32 Z" fill="#cf5aa8"/>
<path d="M130.73,802.36 L133.37,802.36 L132.05,799.72 Z" fill="#cf5aa8"/>
<path d="M139.70,802.35 L142.34,802.35 L141.02,799.71 Z" fill="#cf5aa8"/>
<path d="M148.67,800.19 L151.31,800.19 L149.99,797.55 Z" fill="#cf5aa8"/>
<path d="M157.64,802.43 L160.28,802.43 L158.96,799.79 Z" fill="#cf5aa8"/>
<path d="M166.62,803.64 L169.26,803.64 L167.94,801.00 Z" fill="#cf5aa8"/>
<path d="M175.59,804.08 L178.23,804.08 L176.91,801.44 Z" fill="#cf5aa8"/>
<path d="M184.56,800.28 L187.20,800.28 L185.88,797.64 Z" fill="#cf5aa8"/>
<path d="M193.53,798.41 L196.17,798.41 L194.85,795.77 Z" fill="#cf5aa8"/>
<path d="M202.50,800.74 L205.14,800.74 L203.82,798.10 Z" fill="#cf5aa8"/>
<path d="M211.48,802.09 L214.12,802.09 L212.80,799.45 Z" fill="#cf5aa8"/>
<path d="M220.45,798.02 L223.09,798.02 L221.77,795.38 Z" fill="#cf5aa8"/>
<path d="M229.42,802.19 L232.06,802.19 L230.74,799.55 Z" fill="#cf5aa8"/>
<path d="M238.39,801.07 L241.03,801.07 L239.71,798.43 Z" fill="#cf5aa8"/>
<path d="M247.36,801.18 L250.00,801.18 L248.68,798.54 Z" fill="#cf5aa8"/>
<path d="M256.34,796.10 L258.98,796.10 L257.66,793.46 Z" fill="#cf5aa8"/>
<path d="M60.27,800.28 L69.24,799.38 L78.22,800.09 L87.19,799.21 L96.16,798.17 L100.65,799.65 L105.13,800.85 L109.62,802.69 L114.10,800.76 L118.59,802.25 L123.08,802.07 L132.05,802.88 L141.02,800.69 L149.99,799.11 L158.96,798.50 L167.94,797.22 L176.91,799.93 L185.88,800.48 L194.85,800.37 L203.82,799.10 L212.80,800.61 L221.77,797.27 L230.74,799.25 L239.71,798.63 L248.68,799.56 L257.66,798.33" stroke="#e08fc4" stroke-width="0.8" fill="none" stroke-linejoin="round"/>
<path d="M58.95,801.48 L61.59,801.48 L60.27,798.84 Z" fill="#cf5aa8"/>
<path d="M67.92,800.58 L70.56,800.58 L69.24,797.94 Z" fill="#cf5aa8"/>
<path d="M76.90,801.29 L79.54,801.29 L78.22,798.65 Z" fill="#cf5aa8"/>
<path d="M85.87,800.41 L88.51,800.41 L87.19,797.77 Z" fill="#cf5aa8"/>
<path d="M94.84,799.37 L97.48,799.37 L96.16,796.73 Z" fill="#cf5aa8"/>
<path d="M99.33,800.85 L101.97,800.85 L100.65,798.21 Z" fill="#cf5aa8"/>
<path d="M103.81,802.05 L106.45,802.05 L105.13,799.41 Z" fill="#cf5aa8"/>
<path d="M108.30,803.89 L110.94,803.89 L109.62,801.25 Z" fill="#cf5aa8"/>
<path d="M112.78,801.96 L115.42,801.96 L114.10,799.32 Z" fill="#cf5aa8"/>
<path d="M117.27,803.45 L119.91,803.45 L118.59,800.81 Z" fill="#cf5aa8"/>
<path d="M121.76,803.27 L124.40,803.27 L123.08,800.63 Z" fill="#cf5aa8"/>
<path d="M130.73,804.08 L133.37,804.08 L132.05,801.44 Z" fill="#cf5aa8"/>
<path d="M139.70,801.89 L142.34,801.89 L141.02,799.25 Z" fill="#cf5aa8"/>
<path d="M148.67,800.31 L151.31,800.31 L149.99,797.67 Z" fill="#cf5aa8"/>
<path d="M157.64,799.70 L160.28,799.70 L158.96,797.06 Z" fill="#cf5aa8"/>
<path d="M166.62,798.42 L169.26,798.42 L167.94,795.78 Z" fill="#cf5aa8"/>
<path d="M175.59,801.13 L178.23,801.13 L176.91,798.49 Z" fill="#cf5aa8"/>
<path d="M184.56,801.68 L187.20,801.68 L185.88,799.04 Z" fill="#cf5aa8"/>
<path d="M193.53,801.57 L196.17,801.57 L194.85,798.93 Z" fill="#cf5aa8"/>
<path d="M202.50,800.30 L205.14,800.30 L203.82,797.66 Z" fill="#cf5aa8"/>
<path d="M211.48,801.81 L214.12,801.81 L212.80,799.17 Z" fill="#cf5aa8"/>
<path d="M220.45,798.47 L223.09,798.47 L221.77,795.83 Z" fill="#cf5aa8"/>
<path d="M229.42,800.45 L232.06,800.45 L230.74,797.81 Z" fill="#cf5aa8"/>
<path d="M238.39,799.83 L241.03,799.83 L239.71,797.19 Z" fill="#cf5aa8"/>
<path d="M247.36,800.76 L250.00,800.76 L248.68,798.12 Z" fill="#cf5aa8"/>
<path d="M256.34,799.53 L258.98,799.53 L257.66,796.89 Z" fill="#cf5aa8"/>
<path d="M60.27,797.32 L69.24,799.45 L78.22,797.51 L87.19,799.45 L96.16,799.32 L100.65,801.86 L105.13,800.13 L109.62,802.88 L114.10,802.31 L118.59,802.88 L123.08,799.92 L132.05,802.48 L141.02,801.12 L149.99,800.69 L158.96,800.40 L167.94,801.40 L176.91,799.94 L185.88,797.19 L194.85,798.97 L203.82,797.62 L212.80,796.31 L221.77,799.64" stroke="#e08fc4" stroke-width="0.8" fill="none" stroke-linejoin="round"/>
<path d="M58.95,798.52 L61.59,798.52 L60.27,795.88 Z" fill="#cf5aa8"/>
<path d="M67.92,800.65 L70.56,800.65 L69.24,798.01 Z" fill="#cf5aa8"/>
<path d="M76.90,798.71 L79.54,798.71 L78.22,796.07 Z" fill="#cf5aa8"/>
<path d="M85.87,800.65 L88.51,800.65 L87.19,798.01 Z" fill="#cf5aa8"/>
<path d="M94.84,800.52 L97.48,800.52 L96.16,797.88 Z" fill="#cf5aa8"/>
<path d="M99.33,803.06 L101.97,803.06 L100.65,800.42 Z" fill="#cf5aa8"/>
<path d="M103.81,801.33 L106.45,801.33 L105.13,798.69 Z" fill="#cf5aa8"/>
<path d="M108.30,804.08 L110.94,804.08 L109.62,801.44 Z" fill="#cf5aa8"/>
<path d="M112.78,803.51 L115.42,803.51 L114.10,800.87 Z" fill="#cf5aa8"/>
<path d="M117.27,804.08 L119.91,804.08 L118.59,801.44 Z" fill="#cf5aa8"/>
<path d="M121.76,801.12 L124.40,801.12 L123.08,798.48 Z" fill="#cf5aa8"/>
<path d="M130.73,803.68 L133.37,803.68 L132.05,801.04 Z" fill="#cf5aa8"/>
<path d="M139.70,802.32 L142.34,802.32 L141.02,799.68 Z" fill="#cf5aa8"/>
<path d="M148.67,801.89 L151.31,801.89 L149.99,799.25 Z" fill="#cf5aa8"/>
<path d="M157.64,801.60 L160.28,801.60 L158.96,798.96 Z" fill="#cf5aa8"/>
<path d="M166.62,802.60 L169.26,802.60 L167.94,799.96 Z" fill="#cf5aa8"/>
<path d="M175.59,801.14 L178.23,801.14 L176.91,798.50 Z" fill="#cf5aa8"/>
<path d="M184.56,798.39 L187.20,798.39 L185.88,795.75 Z" fill="#cf5aa8"/>
<path d="M193.53,800.17 L196.17,800.17 L194.85,797.53 Z" fill="#cf5aa8"/>
<path d="M202.50,798.82 L205.14,798.82 L203.82,796.18 Z" fill="#cf5aa8"/>
<path d="M211.48,797.51 L214.12,797.51 L212.80,794.87 Z" fill="#cf5aa8"/>
<path d="M220.45,800.84 L223.09,800.84 L221.77,798.20 Z" fill="#cf5aa8"/>
<path d="M60.27,801.57 L69.24,801.58 L78.22,799.60 L87.19,801.00 L96.16,801.62 L100.65,801.89 L105.13,801.42 L109.62,801.43 L114.10,799.23 L118.59,802.53 L123.08,801.18 L132.05,800.96 L141.02,802.88 L149.99,802.63 L158.96,799.50 L167.94,802.47 L176.91,800.43 L185.88,801.04 L194.85,801.94 L203.82,802.19 L212.80,799.75 L221.77,795.08 L230.74,800.64 L239.71,794.36 L248.68,802.88 L257.66,799.31" stroke="#e08fc4" stroke-width="0.8" fill="none" stroke-linejoin="round"/>
<path d="M58.95,802.77 L61.59,802.77 L60.27,800.13 Z" fill="#cf5aa8"/>
<path d="M67.92,802.78 L70.56,802.78 L69.24,800.14 Z" fill="#cf5aa8"/>
<path d="M76.90,800.80 L79.54,800.80 L78.22,798.16 Z" fill="#cf5aa8"/>
<path d="M85.87,802.20 L88.51,802.20 L87.19,799.56 Z" fill="#cf5aa8"/>
<path d="M94.84,802.82 L97.48,802.82 L96.16,800.18 Z" fill="#cf5aa8"/>
<path d="M99.33,803.09 L101.97,803.09 L100.65,800.45 Z" fill="#cf5aa8"/>
<path d="M103.81,802.62 L106.45,802.62 L105.13,799.98 Z" fill="#cf5aa8"/>
<path d="M108.30,802.63 L110.94,802.63 L109.62,799.99 Z" fill="#cf5aa8"/>
<path d="M112.78,800.43 L115.42,800.43 L114.10,797.79 Z" fill="#cf5aa8"/>
<path d="M117.27,803.73 L119.91,803.73 L118.59,801.09 Z" fill="#cf5aa8"/>
<path d="M121.76,802.38 L124.40,802.38 L123.08,799.74 Z" fill="#cf5aa8"/>
<path d="M130.73,802.16 L133.37,802.16 L132.05,799.52 Z" fill="#cf5aa8"/>
<path d="M139.70,804.08 L142.34,804.08 L141.02,801.44 Z" fill="#cf5aa8"/>
<path d="M148.67,803.83 L151.31,803.83 L149.99,801.19 Z" fill="#cf5aa8"/>
<path d="M157.64,800.70 L160.28,800.70 L158.96,798.06 Z" fill="#cf5aa8"/>
<path d="M166.62,803.67 L169.26,803.67 L167.94,801.03 Z" fill="#cf5aa8"/>
<path d="M175.59,801.63 L178.23,801.63 L176.91,798.99 Z" fill="#cf5aa8"/>
<path d="M184.56,802.24 L187.20,802.24 L185.88,799.60 Z" fill="#cf5aa8"/>
<path d="M193.53,803.14 L196.17,803.14 L194.85,800.50 Z" fill="#cf5aa8"/>
<path d="M202.50,803.39 L205.14,803.39 L203.82,800.75 Z" fill="#cf5aa8"/>
<path d="M211.48,800.95 L214.12,800.95 L212.80,798.31 Z" fill="#cf5aa8"/>
<path d="M220.45,796.28 L223.09,796.28 L221.77,793.64 Z" fill="#cf5aa8"/>
<path d="M229.42,801.84 L232.06,801.84 L230.74,799.20 Z" fill="#cf5aa8"/>
<path d="M238.39,795.56 L241.03,795.56 L239.71,792.92 Z" fill="#cf5aa8"/>
<path d="M247.36,804.08 L250.00,804.08 L248.68,801.44 Z" fill="#cf5aa8"/>
<path d="M256.34,800.51 L258.98,800.51 L257.66,797.87 Z" fill="#cf5aa8"/>
<path d="M60.27,797.09 L69.24,798.76 L78.22,798.66 L87.19,801.51 L96.16,800.96 L100.65,801.08 L105.13,800.68 L109.62,802.05 L114.10,802.81 L118.59,800.60 L123.08,801.50 L132.05,801.46 L141.02,802.70 L149.99,798.07 L158.96,797.49 L167.94,799.14 L176.91,800.61 L185.88,798.65 L194.85,799.91 L203.82,802.88 L212.80,798.42 L221.77,798.28 L230.74,800.52 L239.71,802.13" stroke="#e08fc4" stroke-width="0.8" fill="none" stroke-linejoin="round"/>
<path d="M58.95,798.29 L61.59,798.29 L60.27,795.65 Z" fill="#cf5aa8"/>
<path d="M67.92,799.96 L70.56,799.96 L69.24,797.32 Z" fill="#cf5aa8"/>
<path d="M76.90,799.86 L79.54,799.86 L78.22,797.22 Z" fill="#cf5aa8"/>
<path d="M85.87,802.71 L88.51,802.71 L87.19,800.07 Z" fill="#cf5aa8"/>
<path d="M94.84,802.16 L97.48,802.16 L96.16,799.52 Z" fill="#cf5aa8"/>
<path d="M99.33,802.28 L101.97,802.28 L100.65,799.64 Z" fill="#cf5aa8"/>
<path d="M103.81,801.88 L106.45,801.88 L105.13,799.24 Z" fill="#cf5aa8"/>
<path d="M108.30,803.25 L110.94,803.25 L109.62,800.61 Z" fill="#cf5aa8"/>
<path d="M112.78,804.01 L115.42,804.01 L114.10,801.37 Z" fill="#cf5aa8"/>
<path d="M117.27,801.80 L119.91,801.80 L118.59,799.16 Z" fill="#cf5aa8"/>
<path d="M121.76,802.70 L124.40,802.70 L123.08,800.06 Z" fill="#cf5aa8"/>
<path d="M130.73,802.66 L133.37,802.66 L132.05,800.02 Z" fill="#cf5aa8"/>
<path d="M139.70,803.90 L142.34,803.90 L141.02,801.26 Z" fill="#cf5aa8"/>
<path d="M148.67,799.27 L151.31,799.27 L149.99,796.63 Z" fill="#cf5aa8"/>
<path d="M157.64,798.69 L160.28,798.69 L158.96,796.05 Z" fill="#cf5aa8"/>
<path d="M166.62,800.34 L169.26,800.34 L167.94,797.70 Z" fill="#cf5aa8"/>
<path d="M175.59,801.81 L178.23,801.81 L176.91,799.17 Z" fill="#cf5aa8"/>
<path d="M184.56,799.85 L187.20,799.85 L185.88,797.21 Z" fill="#cf5aa8"/>
<path d="M193.53,801.11 L196.17,801.11 L194.85,798.47 Z" fill="#cf5aa8"/>
<path d="M202.50,804.08 L205.14,804.08 L203.82,801.44 Z" fill="#cf5aa8"/>
<path d="M211.48,799.62 L214.12,799.62 L212.80,796.98 Z" fill="#cf5aa8"/>
<path d="M220.45,799.48 L223.09,799.48 L221.77,796.84 Z" fill="#cf5aa8"/>
<path d="M229.42,801.72 L232.06,801.72 L230.74,799.08 Z" fill="#cf5aa8"/>
<path d="M238.39,803.33 L241.03,803.33 L239.71,800.69 Z" fill="#cf5aa8"/>
<path d="M60.27,798.46 L69.24,798.83 L78.22,797.89 L87.19,801.15 L96.16,801.33 L100.65,802.24 L105.13,801.51 L109.62,800.12 L114.10,801.00 L118.59,802.06 L123.08,802.04 L132.05,798.15 L141.02,799.84 L149.99,799.23 L158.96,802.88 L167.94,799.26 L176.91,799.50 L185.88,797.38 L194.85,797.90 L203.82,799.28 L212.80,797.64 L221.77,802.88 L230.74,796.22 L239.71,798.19 L248.68,801.04 L257.66,795.41" stroke="#e08fc4" stroke-width="0.8" fill="none" stroke-linejoin="round"/>
<path d="M58.95,799.66 L61.59,799.66 L60.27,797.02 Z" fill="#cf5aa8"/>
<path d="M67.92,800.03 L70.56,800.03 L69.24,797.39 Z" fill="#cf5aa8"/>
<path d="M76.90,799.09 L79.54,799.09 L78.22,796.45 Z" fill="#cf5aa8"/>
<path d="M85.87,802.35 L88.51,802.35 L87.19,799.71 Z" fill="#cf5aa8"/>
<path d="M94.84,802.53 L97.48,802.53 L96.16,799.89 Z" fill="#cf5aa8"/>
<path d="M99.33,803.44 L101.97,803.44 L100.65,800.80 Z" fill="#cf5aa8"/>
<path d="M103.81,802.71 L106.45,802.71 L105.13,800.07 Z" fill="#cf5aa8"/>
<path d="M108.30,801.32 L110.94,801.32 L109.62,798.68 Z" fill="#cf5aa8"/>
<path d="M112.78,802.20 L115.42,802.20 L114.10,799.56 Z" fill="#cf5aa8"/>
<path d="M117.27,803.26 L119.91,803.26 L118.59,800.62 Z" fill="#cf5aa8"/>
<path d="M121.76,803.24 L124.40,803.24 L123.08,800.60 Z" fill="#cf5aa8"/>
<path d="M130.73,799.35 L133.37,799.35 L132.05,796.71 Z" fill="#cf5aa8"/>
<path d="M139.70,801.04 L142.34,801.04 L141.02,798.40 Z" fill="#cf5aa8"/>
<path d="M148.67,800.43 L151.31,800.43 L149.99,797.79 Z" fill="#cf5aa8"/>
<path d="M157.64,804.08 L160.28,804.08 L158.96,801.44 Z" fill="#cf5aa8"/>
<path d="M166.62,800.46 L169.26,800.46 L167.94,797.82 Z" fill="#cf5aa8"/>
<path d="M175.59,800.70 L178.23,800.70 L176.91,798.06 Z" fill="#cf5aa8"/>
<path d="M184.56,798.58 L187.20,798.58 L185.88,795.94 Z" fill="#cf5aa8"/>
<path d="M193.53,799.10 L196.17,799.10 L194.85,796.46 Z" fill="#cf5aa8"/>
<path d="M202.50,800.48 L205.14,800.48 L203.82,797.84 Z" fill="#cf5aa8"/>
<path d="M211.48,798.84 L214.12,798.84 L212.80,796.20 Z" fill="#cf5aa8"/>
<path d="M220.45,804.08 L223.09,804.08 L221.77,801.44 Z" fill="#cf5aa8"/>
<path d="M229.42,797.42 L232.06,797.42 L230.74,794.78 Z" fill="#cf5aa8"/>
<path d="M238.39,799.39 L241.03,799.39 L239.71,796.75 Z" fill="#cf5aa8"/>
<path d="M247.36,802.24 L250.00,802.24 L248.68,799.60 Z" fill="#cf5aa8"/>
<path d="M256.34,796.61 L258.98,796.61 L257.66,793.97 Z" fill="#cf5aa8"/>
<path d="M60.27,796.15 L69.24,799.58 L78.22,800.07 L87.19,799.52 L96.16,800.51 L100.65,801.49 L105.13,800.92 L109.62,799.65 L114.10,801.71 L118.59,800.96 L123.08,801.55 L132.05,800.86 L141.02,801.43 L149.99,799.09 L158.96,801.83 L167.94,801.54 L176.91,798.45 L185.88,799.10 L194.85,800.07 L203.82,796.75 L212.80,796.63 L221.77,798.99 L230.74,797.76 L239.71,798.62 L248.68,798.33 L257.66,798.38" stroke="#e08fc4" stroke-width="0.8" fill="none" stroke-linejoin="round"/>
<path d="M58.95,797.35 L61.59,797.35 L60.27,794.71 Z" fill="#cf5aa8"/>
<path d="M67.92,800.78 L70.56,800.78 L69.24,798.14 Z" fill="#cf5aa8"/>
<path d="M76.90,801.27 L79.54,801.27 L78.22,798.63 Z" fill="#cf5aa8"/>
<path d="M85.87,800.72 L88.51,800.72 L87.19,798.08 Z" fill="#cf5aa8"/>
<path d="M94.84,801.71 L97.48,801.71 L96.16,799.07 Z" fill="#cf5aa8"/>
<path d="M99.33,802.69 L101.97,802.69 L100.65,800.05 Z" fill="#cf5aa8"/>
<path d="M103.81,802.12 L106.45,802.12 L105.13,799.48 Z" fill="#cf5aa8"/>
<path d="M108.30,800.85 L110.94,800.85 L109.62,798.21 Z" fill="#cf5aa8"/>
<path d="M112.78,802.91 L115.42,802.91 L114.10,800.27 Z" fill="#cf5aa8"/>
<path d="M117.27,802.16 L119.91,802.16 L118.59,799.52 Z" fill="#cf5aa8"/>
<path d="M121.76,802.75 L124.40,802.75 L123.08,800.11 Z" fill="#cf5aa8"/>
<path d="M130.73,802.06 L133.37,802.06 L132.05,799.42 Z" fill="#cf5aa8"/>
<path d="M139.70,802.63 L142.34,802.63 L141.02,799.99 Z" fill="#cf5aa8"/>
<path d="M148.67,800.29 L151.31,800.29 L149.99,797.65 Z" fill="#cf5aa8"/>
<path d="M157.64,803.03 L160.28,803.03 L158.96,800.39 Z" fill="#cf5aa8"/>
<path d="M166.62,802.74 L169.26,802.74 L167.94,800.10 Z" fill="#cf5aa8"/>
<path d="M175.59,799.65 L178.23,799.65 L176.91,797.01 Z" fill="#cf5aa8"/>
<path d="M184.56,800.30 L187.20,800.30 L185.88,797.66 Z" fill="#cf5aa8"/>
<path d="M193.53,801.27 L196.17,801.27 L194.85,798.63 Z" fill="#cf5aa8"/>
<path d="M202.50,797.95 L205.14,797.95 L203.82,795.31 Z" fill="#cf5aa8"/>
<path d="M211.48,797.83 L214.12,797.83 L212.80,795.19 Z" fill="#cf5aa8"/>
<path d="M220.45,800.19 L223.09,800.19 L221.77,797.55 Z" fill="#cf5aa8"/>
<path d="M229.42,798.96 L232.06,798.96 L230.74,796.32 Z" fill="#cf5aa8"/>
<path d="M238.39,799.82 L241.03,799.82 L239.71,797.18 Z" fill="#cf5aa8"/>
<path d="M247.36,799.53 L250.00,799.53 L248.68,796.89 Z" fill="#cf5aa8"/>
<path d="M256.34,799.58 L258.98,799.58 L257.66,796.94 Z" fill="#cf5aa8"/>
<path d="M60.27,797.89 L69.24,799.26 L78.22,800.80 L87.19,801.81 L96.16,801.11 L100.65,801.23 L105.13,800.94 L109.62,801.11 L114.10,800.92 L118.59,801.26 L123.08,802.51 L132.05,800.64 L141.02,799.94 L149.99,799.59 L158.96,800.69 L167.94,799.56 L176.91,802.06 L185.88,802.88 L194.85,798.93 L203.82,801.67 L212.80,797.04 L221.77,802.10 L230.74,802.88 L239.71,801.98 L248.68,794.71 L257.66,800.15" stroke="#9ad6b5" stroke-width="0.8" fill="none" stroke-linejoin="round"/>
<rect x="59.07" y="796.69" width="2.40" height="2.40" fill="#6cc090"/>
<rect x="68.04" y="798.06" width="2.40" height="2.40" fill="#6cc090"/>
<rect x="77.02" y="799.60" width="2.40" height="2.40" fill="#6cc090"/>
<rect x="85.99" y="800.61" width="2.40" height="2.40" fill="#6cc090"/>
<rect x="94.96" y="799.91" width="2.40" height="2.40" fill="#6cc090"/>
<rect x="99.45" y="800.03" width="2.40" height="2.40" fill="#6cc090"/>
<rect x="103.93" y="799.74" width="2.40" height="2.40" fill="#6cc090"/>
<rect x="108.42" y="799.91" width="2.40" height="2.40" fill="#6cc090"/>
<rect x="112.90" y="799.72" width="2.40" height="2.40" fill="#6cc090"/>
<rect x="117.39" y="800.06" width="2.40" height="2.40" fill="#6cc090"/>
<rect x="121.88" y="801.31" width="2.40" height="2.40" fill="#6cc090"/>
<rect x="130.85" y="799.44" width="2.40" height="2.40" fill="#6cc090"/>
<rect x="139.82" y="798.74" width="2.40" height="2.40" fill="#6cc090"/>
<rect x="148.79" y="798.39" width="2.40" height="2.40" fill="#6cc090"/>
<rect x="157.76" y="799.49" width="2.40" height="2.40" fill="#6cc090"/>
<rect x="166.74" y="798.36" width="2.40" height="2.40" fill="#6cc090"/>
<rect x="175.71" y="800.86" width="2.40" height="2.40" fill="#6cc090"/>
<rect x="184.68" y="801.68" width="2.40" height="2.40" fill="#6cc090"/>
<rect x="193.65" y="797.73" width="2.40" height="2.40" fill="#6cc090"/>
<rect x="202.62" y="800.47" width="2.40" height="2.40" fill="#6cc090"/>
<rect x="211.60" y="795.84" width="2.40" height="2.40" fill="#6cc090"/>
<rect x="220.57" y="800.90" width="2.40" height="2.40" fill="#6cc090"/>
<rect x="229.54" y="801.68" width="2.40" height="2.40" fill="#6cc090"/>
<rect x="238.51" y="800.78" width="2.40" height="2.40" fill="#6cc090"/>
<rect x="247.48" y="793.51" width="2.40" height="2.40" fill="#6cc090"/>
<rect x="256.46" y="798.95" width="2.40" height="2.40" fill="#6cc090"/>
<path d="M60.27,801.76 L69.24,799.68 L78.22,798.86 L87.19,800.82 L96.16,800.80 L100.65,801.16 L105.13,801.96 L109.62,800.87 L114.10,800.71 L118.59,799.89 L123.08,802.88 L132.05,801.54 L141.02,801.90 L149.99,800.28 L158.96,798.88 L167.94,801.35 L176.91,800.09 L185.88,801.65 L194.85,798.37 L203.82,791.86 L212.80,800.86 L221.77,801.08 L230.74,799.70 L239.71,796.76 L248.68,799.60 L257.66,799.17" stroke="#9ad6b5" stroke-width="0.8" fill="none" stroke-linejoin="round"/>
<rect x="59.07" y="800.56" width="2.40" height="2.40" fill="#6cc090"/>
<rect x="68.04" y="798.48" width="2.40" height="2.40" fill="#6cc090"/>
<rect x="77.02" y="797.66" width="2.40" height="2.40" fill="#6cc090"/>
<rect x="85.99" y="799.62" width="2.40" height="2.40" fill="#6cc090"/>
<rect x="94.96" y="799.60" width="2.40" height="2.40" fill="#6cc090"/>
<rect x="99.45" y="799.96" width="2.40" height="2.40" fill="#6cc090"/>
<rect x="103.93" y="800.76" width="2.40" height="2.40" fill="#6cc090"/>
<rect x="108.42" y="799.67" width="2.40" height="2.40" fill="#6cc090"/>
<rect x="112.90" y="799.51" width="2.40" height="2.40" fill="#6cc090"/>
<rect x="117.39" y="798.69" width="2.40" height="2.40" fill="#6cc090"/>
<rect x="121.88" y="801.68" width="2.40" height="2.40" fill="#6cc090"/>
<rect x="130.85" y="800.34" width="2.40" height="2.40" fill="#6cc090"/>
<rect x="139.82" y="800.70" width="2.40" height="2.40" fill="#6cc090"/>
<rect x="148.79" y="799.08" width="2.40" height="2.40" fill="#6cc090"/>
<rect x="157.76" y="797.68" width="2.40" height="2.40" fill="#6cc090"/>
<rect x="166.74" y="800.15" width="2.40" height="2.40" fill="#6cc090"/>
<rect x="175.71" y="798.89" width="2.40" height="2.40" fill="#6cc090"/>
<rect x="184.68" y="800.45" width="2.40" height="2.40" fill="#6cc090"/>
<rect x="193.65" y="797.17" width="2.40" height="2.40" fill="#6cc090"/>
<rect x="202.62" y="790.66" width="2.40" height="2.40" fill="#6cc090"/>
<rect x="211.60" y="799.66" width="2.40" height="2.40" fill="#6cc090"/>
<rect x="220.57" y="799.88" width="2.40" height="2.40" fill="#6cc090"/>
<rect x="229.54" y="798.50" width="2.40" height="2.40" fill="#6cc090"/>
<rect x="238.51" y="795.56" width="2.40" height="2.40" fill="#6cc090"/>
<rect x="247.48" y="798.40" width="2.40" height="2.40" fill="#6cc090"/>
<rect x="256.46" y="797.97" width="2.40" height="2.40" fill="#6cc090"/>
<path d="M60.27,799.28 L69.24,801.41 L78.22,799.01 L87.19,800.71 L96.16,799.86 L100.65,800.24 L105.13,801.08 L109.62,800.16 L114.10,800.51 L118.59,800.88 L123.08,801.05 L132.05,801.38 L141.02,800.35 L149.99,802.22 L158.96,801.46 L167.94,800.34 L176.91,802.88 L185.88,801.12 L194.85,802.88 L203.82,800.99 L212.80,797.51 L221.77,797.52 L230.74,799.24 L239.71,799.74 L248.68,802.88 L257.66,794.02" stroke="#9ad6b5" stroke-width="0.8" fill="none" stroke-linejoin="round"/>
<rect x="59.07" y="798.08" width="2.40" height="2.40" fill="#6cc090"/>
<rect x="68.04" y="800.21" width="2.40" height="2.40" fill="#6cc090"/>
<rect x="77.02" y="797.81" width="2.40" height="2.40" fill="#6cc090"/>
<rect x="85.99" y="799.51" width="2.40" height="2.40" fill="#6cc090"/>
<rect x="94.96" y="798.66" width="2.40" height="2.40" fill="#6cc090"/>
<rect x="99.45" y="799.04" width="2.40" height="2.40" fill="#6cc090"/>
<rect x="103.93" y="799.88" width="2.40" height="2.40" fill="#6cc090"/>
<rect x="108.42" y="798.96" width="2.40" height="2.40" fill="#6cc090"/>
<rect x="112.90" y="799.31" width="2.40" height="2.40" fill="#6cc090"/>
<rect x="117.39" y="799.68" width="2.40" height="2.40" fill="#6cc090"/>
<rect x="121.88" y="799.85" width="2.40" height="2.40" fill="#6cc090"/>
<rect x="130.85" y="800.18" width="2.40" height="2.40" fill="#6cc090"/>
<rect x="139.82" y="799.15" width="2.40" height="2.40" fill="#6cc090"/>
<rect x="148.79" y="801.02" width="2.40" height="2.40" fill="#6cc090"/>
<rect x="157.76" y="800.26" width="2.40" height="2.40" fill="#6cc090"/>
<rect x="166.74" y="799.14" width="2.40" height="2.40" fill="#6cc090"/>
<rect x="175.71" y="801.68" width="2.40" height="2.40" fill="#6cc090"/>
<rect x="184.68" y="799.92" width="2.40" height="2.40" fill="#6cc090"/>
<rect x="193.65" y="801.68" width="2.40" height="2.40" fill="#6cc090"/>
<rect x="202.62" y="799.79" width="2.40" height="2.40" fill="#6cc090"/>
<rect x="211.60" y="796.31" width="2.40" height="2.40" fill="#6cc090"/>
<rect x="220.57" y="796.32" width="2.40" height="2.40" fill="#6cc090"/>
<rect x="229.54" y="798.04" width="2.40" height="2.40" fill="#6cc090"/>
<rect x="238.51" y="798.54" width="2.40" height="2.40" fill="#6cc090"/>
<rect x="247.48" y="801.68" width="2.40" height="2.40" fill="#6cc090"/>
<rect x="256.46" y="792.82" width="2.40" height="2.40" fill="#6cc090"/>
<path d="M60.27,798.43 L69.24,799.67 L78.22,802.56 L87.19,800.24 L96.16,800.07 L100.65,802.88 L105.13,801.17 L109.62,800.41 L114.10,802.88 L118.59,802.88 L123.08,802.29 L132.05,801.81 L141.02,802.67 L149.99,800.30 L158.96,799.91 L167.94,799.23 L176.91,799.11 L185.88,797.70 L194.85,795.86 L203.82,802.73 L212.80,800.49 L221.77,802.03 L230.74,802.08 L239.71,799.32" stroke="#9ad6b5" stroke-width="0.8" fill="none" stroke-linejoin="round"/>
<rect x="59.07" y="797.23" width="2.40" height="2.40" fill="#6cc090"/>
<rect x="68.04" y="798.47" width="2.40" height="2.40" fill="#6cc090"/>
<rect x="77.02" y="801.36" width="2.40" height="2.40" fill="#6cc090"/>
<rect x="85.99" y="799.04" width="2.40" height="2.40" fill="#6cc090"/>
<rect x="94.96" y="798.87" width="2.40" height="2.40" fill="#6cc090"/>
<rect x="99.45" y="801.68" width="2.40" height="2.40" fill="#6cc090"/>
<rect x="103.93" y="799.97" width="2.40" height="2.40" fill="#6cc090"/>
<rect x="108.42" y="799.21" width="2.40" height="2.40" fill="#6cc090"/>
<rect x="112.90" y="801.68" width="2.40" height="2.40" fill="#6cc090"/>
<rect x="117.39" y="801.68" width="2.40" height="2.40" fill="#6cc090"/>
<rect x="121.88" y="801.09" width="2.40" height="2.40" fill="#6cc090"/>
<rect x="130.85" y="800.61" width="2.40" height="2.40" fill="#6cc090"/>
<rect x="139.82" y="801.47" width="2.40" height="2.40" fill="#6cc090"/>
<rect x="148.79" y="799.10" width="2.40" height="2.40" fill="#6cc090"/>
<rect x="157.76" y="798.71" width="2.40" height="2.40" fill="#6cc090"/>
<rect x="166.74" y="798.03" width="2.40" height="2.40" fill="#6cc090"/>
<rect x="175.71" y="797.91" width="2.40" height="2.40" fill="#6cc090"/>
<rect x="184.68" y="796.50" width="2.40" height="2.40" fill="#6cc090"/>
<rect x="193.65" y="794.66" width="2.40" height="2.40" fill="#6cc090"/>
<rect x="202.62" y="801.53" width="2.40" height="2.40" fill="#6cc090"/>
<rect x="211.60" y="799.29" width="2.40" height="2.40" fill="#6cc090"/>
<rect x="220.57" y="800.83" width="2.40" height="2.40" fill="#6cc090"/>
<rect x="229.54" y="800.88" width="2.40" height="2.40" fill="#6cc090"/>
<rect x="238.51" y="798.12" width="2.40" height="2.40" fill="#6cc090"/>
<path d="M60.27,799.33 L69.24,798.72 L78.22,799.81 L87.19,802.88 L96.16,801.41 L100.65,802.88 L105.13,800.78 L109.62,800.65 L114.10,801.78 L118.59,801.08 L123.08,801.91 L132.05,801.84 L141.02,802.11 L149.99,799.95 L158.96,800.94 L167.94,799.12 L176.91,801.13 L185.88,797.96 L194.85,797.95 L203.82,797.89 L212.80,795.53 L221.77,801.07 L230.74,795.58 L239.71,800.45 L248.68,802.71" stroke="#9ad6b5" stroke-width="0.8" fill="none" stroke-linejoin="round"/>
<rect x="59.07" y="798.13" width="2.40" height="2.40" fill="#6cc090"/>
<rect x="68.04" y="797.52" width="2.40" height="2.40" fill="#6cc090"/>
<rect x="77.02" y="798.61" width="2.40" height="2.40" fill="#6cc090"/>
<rect x="85.99" y="801.68" width="2.40" height="2.40" fill="#6cc090"/>
<rect x="94.96" y="800.21" width="2.40" height="2.40" fill="#6cc090"/>
<rect x="99.45" y="801.68" width="2.40" height="2.40" fill="#6cc090"/>
<rect x="103.93" y="799.58" width="2.40" height="2.40" fill="#6cc090"/>
<rect x="108.42" y="799.45" width="2.40" height="2.40" fill="#6cc090"/>
<rect x="112.90" y="800.58" width="2.40" height="2.40" fill="#6cc090"/>
<rect x="117.39" y="799.88" width="2.40" height="2.40" fill="#6cc090"/>
<rect x="121.88" y="800.71" width="2.40" height="2.40" fill="#6cc090"/>
<rect x="130.85" y="800.64" width="2.40" height="2.40" fill="#6cc090"/>
<rect x="139.82" y="800.91" width="2.40" height="2.40" fill="#6cc090"/>
<rect x="148.79" y="798.75" width="2.40" height="2.40" fill="#6cc090"/>
<rect x="157.76" y="799.74" width="2.40" height="2.40" fill="#6cc090"/>
<rect x="166.74" y="797.92" width="2.40" height="2.40" fill="#6cc090"/>
<rect x="175.71" y="799.93" width="2.40" height="2.40" fill="#6cc090"/>
<rect x="184.68" y="796.76" width="2.40" height="2.40" fill="#6cc090"/>
<rect x="193.65" y="796.75" width="2.40" height="2.40" fill="#6cc090"/>
<rect x="202.62" y="796.69" width="2.40" height="2.40" fill="#6cc090"/>
<rect x="211.60" y="794.33" width="2.40" height="2.40" fill="#6cc090"/>
<rect x="220.57" y="799.87" width="2.40" height="2.40" fill="#6cc090"/>
<rect x="229.54" y="794.38" width="2.40" height="2.40" fill="#6cc090"/>
<rect x="238.51" y="799.25" width="2.40" height="2.40" fill="#6cc090"/>
<rect x="247.48" y="801.51" width="2.40" height="2.40" fill="#6cc090"/>
<path d="M60.27,801.37 L69.24,799.12 L78.22,798.55 L87.19,801.20 L96.16,800.85 L100.65,799.85 L105.13,801.34 L109.62,801.99 L114.10,802.88 L118.59,800.71 L123.08,799.71 L132.05,801.17 L141.02,801.29 L149.99,799.66 L158.96,801.79 L167.94,800.11 L176.91,798.49 L185.88,799.38 L194.85,790.22 L203.82,799.39 L212.80,802.88 L221.77,795.05 L230.74,798.10 L239.71,799.55 L248.68,795.21 L257.66,796.62" stroke="#9ad6b5" stroke-width="0.8" fill="none" stroke-linejoin="round"/>
<rect x="59.07" y="800.17" width="2.40" height="2.40" fill="#6cc090"/>
<rect x="68.04" y="797.92" width="2.40" height="2.40" fill="#6cc090"/>
<rect x="77.02" y="797.35" width="2.40" height="2.40" fill="#6cc090"/>
<rect x="85.99" y="800.00" width="2.40" height="2.40" fill="#6cc090"/>
<rect x="94.96" y="799.65" width="2.40" height="2.40" fill="#6cc090"/>
<rect x="99.45" y="798.65" width="2.40" height="2.40" fill="#6cc090"/>
<rect x="103.93" y="800.14" width="2.40" height="2.40" fill="#6cc090"/>
<rect x="108.42" y="800.79" width="2.40" height="2.40" fill="#6cc090"/>
<rect x="112.90" y="801.68" width="2.40" height="2.40" fill="#6cc090"/>
<rect x="117.39" y="799.51" width="2.40" height="2.40" fill="#6cc090"/>
<rect x="121.88" y="798.51" width="2.40" height="2.40" fill="#6cc090"/>
<rect x="130.85" y="799.97" width="2.40" height="2.40" fill="#6cc090"/>
<rect x="139.82" y="800.09" width="2.40" height="2.40" fill="#6cc090"/>
<rect x="148.79" y="798.46" width="2.40" height="2.40" fill="#6cc090"/>
<rect x="157.76" y="800.59" width="2.40" height="2.40" fill="#6cc090"/>
<rect x="166.74" y="798.91" width="2.40" height="2.40" fill="#6cc090"/>
<rect x="175.71" y="797.29" width="2.40" height="2.40" fill="#6cc090"/>
<rect x="184.68" y="798.18" width="2.40" height="2.40" fill="#6cc090"/>
<rect x="193.65" y="789.02" width="2.40" height="2.40" fill="#6cc090"/>
<rect x="202.62" y="798.19" width="2.40" height="2.40" fill="#6cc090"/>
<rect x="211.60" y="801.68" width="2.40" height="2.40" fill="#6cc090"/>
<rect x="220.57" y="793.85" width="2.40" height="2.40" fill="#6cc090"/>
<rect x="229.54" y="796.90" width="2.40" height="2.40" fill="#6cc090"/>
<rect x="238.51" y="798.35" width="2.40" height="2.40" fill="#6cc090"/>
<rect x="247.48" y="794.01" width="2.40" height="2.40" fill="#6cc090"/>
<rect x="256.46" y="795.42" width="2.40" height="2.40" fill="#6cc090"/>
<path d="M60.27,800.87 L69.24,797.49 L78.22,800.31 L87.19,801.77 L96.16,800.31 L100.65,800.42 L105.13,802.88 L109.62,801.08 L114.10,801.62 L118.59,800.71 L123.08,799.51 L132.05,801.63 L141.02,802.59 L149.99,798.76 L158.96,801.84 L167.94,799.49 L176.91,799.20 L185.88,799.26 L194.85,800.23 L203.82,796.84 L212.80,802.88 L221.77,795.16 L230.74,798.95 L239.71,798.69 L248.68,799.23 L257.66,801.21" stroke="#9ad6b5" stroke-width="0.8" fill="none" stroke-linejoin="round"/>
<rect x="59.07" y="799.67" width="2.40" height="2.40" fill="#6cc090"/>
<rect x="68.04" y="796.29" width="2.40" height="2.40" fill="#6cc090"/>
<rect x="77.02" y="799.11" width="2.40" height="2.40" fill="#6cc090"/>
<rect x="85.99" y="800.57" width="2.40" height="2.40" fill="#6cc090"/>
<rect x="94.96" y="799.11" width="2.40" height="2.40" fill="#6cc090"/>
<rect x="99.45" y="799.22" width="2.40" height="2.40" fill="#6cc090"/>
<rect x="103.93" y="801.68" width="2.40" height="2.40" fill="#6cc090"/>
<rect x="108.42" y="799.88" width="2.40" height="2.40" fill="#6cc090"/>
<rect x="112.90" y="800.42" width="2.40" height="2.40" fill="#6cc090"/>
<rect x="117.39" y="799.51" width="2.40" height="2.40" fill="#6cc090"/>
<rect x="121.88" y="798.31" width="2.40" height="2.40" fill="#6cc090"/>
<rect x="130.85" y="800.43" width="2.40" height="2.40" fill="#6cc090"/>
<rect x="139.82" y="801.39" width="2.40" height="2.40" fill="#6cc090"/>
<rect x="148.79" y="797.56" width="2.40" height="2.40" fill="#6cc090"/>
<rect x="157.76" y="800.64" width="2.40" height="2.40" fill="#6cc090"/>
<rect x="166.74" y="798.29" width="2.40" height="2.40" fill="#6cc090"/>
<rect x="175.71" y="798.00" width="2.40" height="2.40" fill="#6cc090"/>
<rect x="184.68" y="798.06" width="2.40" height="2.40" fill="#6cc090"/>
<rect x="193.65" y="799.03" width="2.40" height="2.40" fill="#6cc090"/>
<rect x="202.62" y="795.64" width="2.40" height="2.40" fill="#6cc090"/>
<rect x="211.60" y="801.68" width="2.40" height="2.40" fill="#6cc090"/>
<rect x="220.57" y="793.96" width="2.40" height="2.40" fill="#6cc090"/>
<rect x="229.54" y="797.75" width="2.40" height="2.40" fill="#6cc090"/>
<rect x="238.51" y="797.49" width="2.40" height="2.40" fill="#6cc090"/>
<rect x="247.48" y="798.03" width="2.40" height="2.40" fill="#6cc090"/>
<rect x="256.46" y="800.01" width="2.40" height="2.40" fill="#6cc090"/>
<path d="M60.27,802.10 L69.24,797.07 L78.22,795.77 L87.19,799.94 L96.16,801.03 L100.65,802.88 L105.13,801.18 L109.62,800.76 L114.10,801.94 L118.59,802.45 L123.08,799.36 L132.05,798.73 L141.02,802.00 L149.99,799.75 L158.96,799.90 L167.94,802.88 L176.91,800.74 L185.88,800.17 L194.85,798.89 L203.82,801.89 L212.80,796.59 L221.77,801.57 L230.74,798.76 L239.71,798.00 L248.68,796.48 L257.66,800.25" stroke="#3cb0bd" stroke-width="0.8" fill="none" stroke-linejoin="round"/>
<circle cx="60.27" cy="802.10" r="1.2" fill="#139fab"/>
<circle cx="69.24" cy="797.07" r="1.2" fill="#139fab"/>
<circle cx="78.22" cy="795.77" r="1.2" fill="#139fab"/>
<circle cx="87.19" cy="799.94" r="1.2" fill="#139fab"/>
<circle cx="96.16" cy="801.03" r="1.2" fill="#139fab"/>
<circle cx="100.65" cy="802.88" r="1.2" fill="#139fab"/>
<circle cx="105.13" cy="801.18" r="1.2" fill="#139fab"/>
<circle cx="109.62" cy="800.76" r="1.2" fill="#139fab"/>
<circle cx="114.10" cy="801.94" r="1.2" fill="#139fab"/>
<circle cx="118.59" cy="802.45" r="1.2" fill="#139fab"/>
<circle cx="123.08" cy="799.36" r="1.2" fill="#139fab"/>
<circle cx="132.05" cy="798.73" r="1.2" fill="#139fab"/>
<circle cx="141.02" cy="802.00" r="1.2" fill="#139fab"/>
<circle cx="149.99" cy="799.75" r="1.2" fill="#139fab"/>
<circle cx="158.96" cy="799.90" r="1.2" fill="#139fab"/>
<circle cx="167.94" cy="802.88" r="1.2" fill="#139fab"/>
<circle cx="176.91" cy="800.74" r="1.2" fill="#139fab"/>
<circle cx="185.88" cy="800.17" r="1.2" fill="#139fab"/>
<circle cx="194.85" cy="798.89" r="1.2" fill="#139fab"/>
<circle cx="203.82" cy="801.89" r="1.2" fill="#139fab"/>
<circle cx="212.80" cy="796.59" r="1.2" fill="#139fab"/>
<circle cx="221.77" cy="801.57" r="1.2" fill="#139fab"/>
<circle cx="230.74" cy="798.76" r="1.2" fill="#139fab"/>
<circle cx="239.71" cy="798.00" r="1.2" fill="#139fab"/>
<circle cx="248.68" cy="796.48" r="1.2" fill="#139fab"/>
<circle cx="257.66" cy="800.25" r="1.2" fill="#139fab"/>
<path d="M60.27,797.05 L69.24,796.62 L78.22,802.88 L87.19,800.89 L96.16,801.76 L100.65,801.32 L105.13,801.89 L109.62,800.65 L114.10,801.18 L118.59,799.29 L123.08,801.76 L132.05,802.04 L141.02,801.02 L149.99,798.33 L158.96,800.79 L167.94,801.13 L176.91,800.79 L185.88,800.90 L194.85,802.88 L203.82,799.11 L212.80,801.99 L221.77,800.04 L230.74,801.42 L239.71,795.03 L248.68,802.23 L257.66,797.55" stroke="#3cb0bd" stroke-width="0.8" fill="none" stroke-linejoin="round"/>
<circle cx="60.27" cy="797.05" r="1.2" fill="#139fab"/>
<circle cx="69.24" cy="796.62" r="1.2" fill="#139fab"/>
<circle cx="78.22" cy="802.88" r="1.2" fill="#139fab"/>
<circle cx="87.19" cy="800.89" r="1.2" fill="#139fab"/>
<circle cx="96.16" cy="801.76" r="1.2" fill="#139fab"/>
<circle cx="100.65" cy="801.32" r="1.2" fill="#139fab"/>
<circle cx="105.13" cy="801.89" r="1.2" fill="#139fab"/>
<circle cx="109.62" cy="800.65" r="1.2" fill="#139fab"/>
<circle cx="114.10" cy="801.18" r="1.2" fill="#139fab"/>
<circle cx="118.59" cy="799.29" r="1.2" fill="#139fab"/>
<circle cx="123.08" cy="801.76" r="1.2" fill="#139fab"/>
<circle cx="132.05" cy="802.04" r="1.2" fill="#139fab"/>
<circle cx="141.02" cy="801.02" r="1.2" fill="#139fab"/>
<circle cx="149.99" cy="798.33" r="1.2" fill="#139fab"/>
<circle cx="158.96" cy="800.79" r="1.2" fill="#139fab"/>
<circle cx="167.94" cy="801.13" r="1.2" fill="#139fab"/>
<circle cx="176.91" cy="800.79" r="1.2" fill="#139fab"/>
<circle cx="185.88" cy="800.90" r="1.2" fill="#139fab"/>
<circle cx="194.85" cy="802.88" r="1.2" fill="#139fab"/>
<circle cx="203.82" cy="799.11" r="1.2" fill="#139fab"/>
<circle cx="212.80" cy="801.99" r="1.2" fill="#139fab"/>
<circle cx="221.77" cy="800.04" r="1.2" fill="#139fab"/>
<circle cx="230.74" cy="801.42" r="1.2" fill="#139fab"/>
<circle cx="239.71" cy="795.03" r="1.2" fill="#139fab"/>
<circle cx="248.68" cy="802.23" r="1.2" fill="#139fab"/>
<circle cx="257.66" cy="797.55" r="1.2" fill="#139fab"/>
<path d="M60.27,798.32 L69.24,797.34 L78.22,800.06 L87.19,800.15 L96.16,800.84 L100.65,801.81 L105.13,798.88 L109.62,800.83 L114.10,802.47 L118.59,799.88 L123.08,800.89 L132.05,800.26 L141.02,801.09 L149.99,802.43 L158.96,801.84 L167.94,801.10 L176.91,801.19 L185.88,802.35 L194.85,797.74 L203.82,802.88 L212.80,794.15 L221.77,795.84 L230.74,802.08 L239.71,796.44 L248.68,801.28 L257.66,798.09" stroke="#3cb0bd" stroke-width="0.8" fill="none" stroke-linejoin="round"/>
<circle cx="60.27" cy="798.32" r="1.2" fill="#139fab"/>
<circle cx="69.24" cy="797.34" r="1.2" fill="#139fab"/>
<circle cx="78.22" cy="800.06" r="1.2" fill="#139fab"/>
<circle cx="87.19" cy="800.15" r="1.2" fill="#139fab"/>
<circle cx="96.16" cy="800.84" r="1.2" fill="#139fab"/>
<circle cx="100.65" cy="801.81" r="1.2" fill="#139fab"/>
<circle cx="105.13" cy="798.88" r="1.2" fill="#139fab"/>
<circle cx="109.62" cy="800.83" r="1.2" fill="#139fab"/>
<circle cx="114.10" cy="802.47" r="1.2" fill="#139fab"/>
<circle cx="118.59" cy="799.88" r="1.2" fill="#139fab"/>
<circle cx="123.08" cy="800.89" r="1.2" fill="#139fab"/>
<circle cx="132.05" cy="800.26" r="1.2" fill="#139fab"/>
<circle cx="141.02" cy="801.09" r="1.2" fill="#139fab"/>
<circle cx="149.99" cy="802.43" r="1.2" fill="#139fab"/>
<circle cx="158.96" cy="801.84" r="1.2" fill="#139fab"/>
<circle cx="167.94" cy="801.10" r="1.2" fill="#139fab"/>
<circle cx="176.91" cy="801.19" r="1.2" fill="#139fab"/>
<circle cx="185.88" cy="802.35" r="1.2" fill="#139fab"/>
<circle cx="194.85" cy="797.74" r="1.2" fill="#139fab"/>
<circle cx="203.82" cy="802.88" r="1.2" fill="#139fab"/>
<circle cx="212.80" cy="794.15" r="1.2" fill="#139fab"/>
<circle cx="221.77" cy="795.84" r="1.2" fill="#139fab"/>
<circle cx="230.74" cy="802.08" r="1.2" fill="#139fab"/>
<circle cx="239.71" cy="796.44" r="1.2" fill="#139fab"/>
<circle cx="248.68" cy="801.28" r="1.2" fill="#139fab"/>
<circle cx="257.66" cy="798.09" r="1.2" fill="#139fab"/>
<path d="M60.27,798.05 L69.24,798.01 L78.22,799.07 L87.19,802.88 L96.16,799.85 L100.65,801.37 L105.13,798.81 L109.62,799.97 L114.10,799.89 L118.59,801.70 L123.08,802.30 L132.05,800.87 L141.02,800.95 L149.99,801.58 L158.96,797.63 L167.94,796.50 L176.91,797.80 L185.88,798.27" stroke="#3cb0bd" stroke-width="0.8" fill="none" stroke-linejoin="round"/>
<circle cx="60.27" cy="798.05" r="1.2" fill="#139fab"/>
<circle cx="69.24" cy="798.01" r="1.2" fill="#139fab"/>
<circle cx="78.22" cy="799.07" r="1.2" fill="#139fab"/>
<circle cx="87.19" cy="802.88" r="1.2" fill="#139fab"/>
<circle cx="96.16" cy="799.85" r="1.2" fill="#139fab"/>
<circle cx="100.65" cy="801.37" r="1.2" fill="#139fab"/>
<circle cx="105.13" cy="798.81" r="1.2" fill="#139fab"/>
<circle cx="109.62" cy="799.97" r="1.2" fill="#139fab"/>
<circle cx="114.10" cy="799.89" r="1.2" fill="#139fab"/>
<circle cx="118.59" cy="801.70" r="1.2" fill="#139fab"/>
<circle cx="123.08" cy="802.30" r="1.2" fill="#139fab"/>
<circle cx="132.05" cy="800.87" r="1.2" fill="#139fab"/>
<circle cx="141.02" cy="800.95" r="1.2" fill="#139fab"/>
<circle cx="149.99" cy="801.58" r="1.2" fill="#139fab"/>
<circle cx="158.96" cy="797.63" r="1.2" fill="#139fab"/>
<circle cx="167.94" cy="796.50" r="1.2" fill="#139fab"/>
<circle cx="176.91" cy="797.80" r="1.2" fill="#139fab"/>
<circle cx="185.88" cy="798.27" r="1.2" fill="#139fab"/>
<path d="M60.27,797.21 L69.24,802.42 L78.22,796.71 L87.19,800.13 L96.16,800.53 L100.65,801.11 L105.13,801.39 L109.62,801.24 L114.10,801.73 L118.59,802.88 L123.08,802.06 L132.05,802.08 L141.02,802.85 L149.99,799.20 L158.96,799.14 L167.94,799.48 L176.91,799.27 L185.88,800.75 L194.85,799.43 L203.82,794.20 L212.80,795.64 L221.77,799.07 L230.74,796.85 L239.71,799.14 L248.68,801.24 L257.66,794.24" stroke="#3cb0bd" stroke-width="0.8" fill="none" stroke-linejoin="round"/>
<circle cx="60.27" cy="797.21" r="1.2" fill="#139fab"/>
<circle cx="69.24" cy="802.42" r="1.2" fill="#139fab"/>
<circle cx="78.22" cy="796.71" r="1.2" fill="#139fab"/>
<circle cx="87.19" cy="800.13" r="1.2" fill="#139fab"/>
<circle cx="96.16" cy="800.53" r="1.2" fill="#139fab"/>
<circle cx="100.65" cy="801.11" r="1.2" fill="#139fab"/>
<circle cx="105.13" cy="801.39" r="1.2" fill="#139fab"/>
<circle cx="109.62" cy="801.24" r="1.2" fill="#139fab"/>
<circle cx="114.10" cy="801.73" r="1.2" fill="#139fab"/>
<circle cx="118.59" cy="802.88" r="1.2" fill="#139fab"/>
<circle cx="123.08" cy="802.06" r="1.2" fill="#139fab"/>
<circle cx="132.05" cy="802.08" r="1.2" fill="#139fab"/>
<circle cx="141.02" cy="802.85" r="1.2" fill="#139fab"/>
<circle cx="149.99" cy="799.20" r="1.2" fill="#139fab"/>
<circle cx="158.96" cy="799.14" r="1.2" fill="#139fab"/>
<circle cx="167.94" cy="799.48" r="1.2" fill="#139fab"/>
<circle cx="176.91" cy="799.27" r="1.2" fill="#139fab"/>
<circle cx="185.88" cy="800.75" r="1.2" fill="#139fab"/>
<circle cx="194.85" cy="799.43" r="1.2" fill="#139fab"/>
<circle cx="203.82" cy="794.20" r="1.2" fill="#139fab"/>
<circle cx="212.80" cy="795.64" r="1.2" fill="#139fab"/>
<circle cx="221.77" cy="799.07" r="1.2" fill="#139fab"/>
<circle cx="230.74" cy="796.85" r="1.2" fill="#139fab"/>
<circle cx="239.71" cy="799.14" r="1.2" fill="#139fab"/>
<circle cx="248.68" cy="801.24" r="1.2" fill="#139fab"/>
<circle cx="257.66" cy="794.24" r="1.2" fill="#139fab"/>
<path d="M60.27,801.54 L69.24,799.71 L78.22,797.55 L87.19,800.90 L96.16,801.33 L100.65,801.41 L105.13,800.32 L109.62,798.94 L114.10,801.39 L118.59,801.47 L123.08,800.95 L132.05,799.95 L141.02,802.00 L149.99,798.85 L158.96,801.29 L167.94,802.88 L176.91,801.50 L185.88,799.00 L194.85,796.79 L203.82,798.99 L212.80,798.51 L221.77,799.95 L230.74,800.95 L239.71,799.04 L248.68,798.91 L257.66,800.91" stroke="#3cb0bd" stroke-width="0.8" fill="none" stroke-linejoin="round"/>
<circle cx="60.27" cy="801.54" r="1.2" fill="#139fab"/>
<circle cx="69.24" cy="799.71" r="1.2" fill="#139fab"/>
<circle cx="78.22" cy="797.55" r="1.2" fill="#139fab"/>
<circle cx="87.19" cy="800.90" r="1.2" fill="#139fab"/>
<circle cx="96.16" cy="801.33" r="1.2" fill="#139fab"/>
<circle cx="100.65" cy="801.41" r="1.2" fill="#139fab"/>
<circle cx="105.13" cy="800.32" r="1.2" fill="#139fab"/>
<circle cx="109.62" cy="798.94" r="1.2" fill="#139fab"/>
<circle cx="114.10" cy="801.39" r="1.2" fill="#139fab"/>
<circle cx="118.59" cy="801.47" r="1.2" fill="#139fab"/>
<circle cx="123.08" cy="800.95" r="1.2" fill="#139fab"/>
<circle cx="132.05" cy="799.95" r="1.2" fill="#139fab"/>
<circle cx="141.02" cy="802.00" r="1.2" fill="#139fab"/>
<circle cx="149.99" cy="798.85" r="1.2" fill="#139fab"/>
<circle cx="158.96" cy="801.29" r="1.2" fill="#139fab"/>
<circle cx="167.94" cy="802.88" r="1.2" fill="#139fab"/>
<circle cx="176.91" cy="801.50" r="1.2" fill="#139fab"/>
<circle cx="185.88" cy="799.00" r="1.2" fill="#139fab"/>
<circle cx="194.85" cy="796.79" r="1.2" fill="#139fab"/>
<circle cx="203.82" cy="798.99" r="1.2" fill="#139fab"/>
<circle cx="212.80" cy="798.51" r="1.2" fill="#139fab"/>
<circle cx="221.77" cy="799.95" r="1.2" fill="#139fab"/>
<circle cx="230.74" cy="800.95" r="1.2" fill="#139fab"/>
<circle cx="239.71" cy="799.04" r="1.2" fill="#139fab"/>
<circle cx="248.68" cy="798.91" r="1.2" fill="#139fab"/>
<circle cx="257.66" cy="800.91" r="1.2" fill="#139fab"/>
<path d="M60.27,799.69 L69.24,795.65 L78.22,797.43 L87.19,800.13 L96.16,802.88 L100.65,802.62 L105.13,802.88 L109.62,800.88 L114.10,799.71 L118.59,800.59 L123.08,800.78 L132.05,801.29 L141.02,799.63 L149.99,800.00 L158.96,802.75 L167.94,798.94 L176.91,799.58 L185.88,798.59 L194.85,799.66 L203.82,801.43 L212.80,798.24 L221.77,798.35 L230.74,798.18 L239.71,797.53 L248.68,801.04 L257.66,801.86" stroke="#3cb0bd" stroke-width="0.8" fill="none" stroke-linejoin="round"/>
<circle cx="60.27" cy="799.69" r="1.2" fill="#139fab"/>
<circle cx="69.24" cy="795.65" r="1.2" fill="#139fab"/>
<circle cx="78.22" cy="797.43" r="1.2" fill="#139fab"/>
<circle cx="87.19" cy="800.13" r="1.2" fill="#139fab"/>
<circle cx="96.16" cy="802.88" r="1.2" fill="#139fab"/>
<circle cx="100.65" cy="802.62" r="1.2" fill="#139fab"/>
<circle cx="105.13" cy="802.88" r="1.2" fill="#139fab"/>
<circle cx="109.62" cy="800.88" r="1.2" fill="#139fab"/>
<circle cx="114.10" cy="799.71" r="1.2" fill="#139fab"/>
<circle cx="118.59" cy="800.59" r="1.2" fill="#139fab"/>
<circle cx="123.08" cy="800.78" r="1.2" fill="#139fab"/>
<circle cx="132.05" cy="801.29" r="1.2" fill="#139fab"/>
<circle cx="141.02" cy="799.63" r="1.2" fill="#139fab"/>
<circle cx="149.99" cy="800.00" r="1.2" fill="#139fab"/>
<circle cx="158.96" cy="802.75" r="1.2" fill="#139fab"/>
<circle cx="167.94" cy="798.94" r="1.2" fill="#139fab"/>
<circle cx="176.91" cy="799.58" r="1.2" fill="#139fab"/>
<circle cx="185.88" cy="798.59" r="1.2" fill="#139fab"/>
<circle cx="194.85" cy="799.66" r="1.2" fill="#139fab"/>
<circle cx="203.82" cy="801.43" r="1.2" fill="#139fab"/>
<circle cx="212.80" cy="798.24" r="1.2" fill="#139fab"/>
<circle cx="221.77" cy="798.35" r="1.2" fill="#139fab"/>
<circle cx="230.74" cy="798.18" r="1.2" fill="#139fab"/>
<circle cx="239.71" cy="797.53" r="1.2" fill="#139fab"/>
<circle cx="248.68" cy="801.04" r="1.2" fill="#139fab"/>
<circle cx="257.66" cy="801.86" r="1.2" fill="#139fab"/>
<path d="M60.27,800.42 L69.24,796.72 L78.22,796.63 L87.19,802.88 L96.16,801.61 L100.65,800.92 L105.13,800.71 L109.62,800.90 L114.10,802.88 L118.59,800.00 L123.08,802.85 L132.05,801.81 L141.02,802.50 L149.99,798.29 L158.96,801.50 L167.94,797.38 L176.91,798.00 L185.88,798.91 L194.85,797.93 L203.82,795.82 L212.80,801.41 L221.77,798.28 L230.74,799.34 L239.71,802.23 L248.68,800.51 L257.66,800.63" stroke="#3cb0bd" stroke-width="0.8" fill="none" stroke-linejoin="round"/>
<circle cx="60.27" cy="800.42" r="1.2" fill="#139fab"/>
<circle cx="69.24" cy="796.72" r="1.2" fill="#139fab"/>
<circle cx="78.22" cy="796.63" r="1.2" fill="#139fab"/>
<circle cx="87.19" cy="802.88" r="1.2" fill="#139fab"/>
<circle cx="96.16" cy="801.61" r="1.2" fill="#139fab"/>
<circle cx="100.65" cy="800.92" r="1.2" fill="#139fab"/>
<circle cx="105.13" cy="800.71" r="1.2" fill="#139fab"/>
<circle cx="109.62" cy="800.90" r="1.2" fill="#139fab"/>
<circle cx="114.10" cy="802.88" r="1.2" fill="#139fab"/>
<circle cx="118.59" cy="800.00" r="1.2" fill="#139fab"/>
<circle cx="123.08" cy="802.85" r="1.2" fill="#139fab"/>
<circle cx="132.05" cy="801.81" r="1.2" fill="#139fab"/>
<circle cx="141.02" cy="802.50" r="1.2" fill="#139fab"/>
<circle cx="149.99" cy="798.29" r="1.2" fill="#139fab"/>
<circle cx="158.96" cy="801.50" r="1.2" fill="#139fab"/>
<circle cx="167.94" cy="797.38" r="1.2" fill="#139fab"/>
<circle cx="176.91" cy="798.00" r="1.2" fill="#139fab"/>
<circle cx="185.88" cy="798.91" r="1.2" fill="#139fab"/>
<circle cx="194.85" cy="797.93" r="1.2" fill="#139fab"/>
<circle cx="203.82" cy="795.82" r="1.2" fill="#139fab"/>
<circle cx="212.80" cy="801.41" r="1.2" fill="#139fab"/>
<circle cx="221.77" cy="798.28" r="1.2" fill="#139fab"/>
<circle cx="230.74" cy="799.34" r="1.2" fill="#139fab"/>
<circle cx="239.71" cy="802.23" r="1.2" fill="#139fab"/>
<circle cx="248.68" cy="800.51" r="1.2" fill="#139fab"/>
<circle cx="257.66" cy="800.63" r="1.2" fill="#139fab"/>
<path d="M60.27,800.76 L69.24,798.38 L78.22,802.45 L87.19,800.66 L96.16,800.43 L100.65,800.83 L105.13,799.71 L109.62,800.53 L114.10,801.76 L118.59,800.35 L123.08,800.79 L132.05,801.21 L141.02,801.15 L149.99,802.88 L158.96,799.03 L167.94,801.03 L176.91,800.78 L185.88,802.69 L194.85,796.79 L203.82,802.88 L212.80,794.33 L221.77,797.02 L230.74,795.65 L239.71,796.34 L248.68,802.88 L257.66,798.07" stroke="#3cb0bd" stroke-width="0.8" fill="none" stroke-linejoin="round"/>
<circle cx="60.27" cy="800.76" r="1.2" fill="#139fab"/>
<circle cx="69.24" cy="798.38" r="1.2" fill="#139fab"/>
<circle cx="78.22" cy="802.45" r="1.2" fill="#139fab"/>
<circle cx="87.19" cy="800.66" r="1.2" fill="#139fab"/>
<circle cx="96.16" cy="800.43" r="1.2" fill="#139fab"/>
<circle cx="100.65" cy="800.83" r="1.2" fill="#139fab"/>
<circle cx="105.13" cy="799.71" r="1.2" fill="#139fab"/>
<circle cx="109.62" cy="800.53" r="1.2" fill="#139fab"/>
<circle cx="114.10" cy="801.76" r="1.2" fill="#139fab"/>
<circle cx="118.59" cy="800.35" r="1.2" fill="#139fab"/>
<circle cx="123.08" cy="800.79" r="1.2" fill="#139fab"/>
<circle cx="132.05" cy="801.21" r="1.2" fill="#139fab"/>
<circle cx="141.02" cy="801.15" r="1.2" fill="#139fab"/>
<circle cx="149.99" cy="802.88" r="1.2" fill="#139fab"/>
<circle cx="158.96" cy="799.03" r="1.2" fill="#139fab"/>
<circle cx="167.94" cy="801.03" r="1.2" fill="#139fab"/>
<circle cx="176.91" cy="800.78" r="1.2" fill="#139fab"/>
<circle cx="185.88" cy="802.69" r="1.2" fill="#139fab"/>
<circle cx="194.85" cy="796.79" r="1.2" fill="#139fab"/>
<circle cx="203.82" cy="802.88" r="1.2" fill="#139fab"/>
<circle cx="212.80" cy="794.33" r="1.2" fill="#139fab"/>
<circle cx="221.77" cy="797.02" r="1.2" fill="#139fab"/>
<circle cx="230.74" cy="795.65" r="1.2" fill="#139fab"/>
<circle cx="239.71" cy="796.34" r="1.2" fill="#139fab"/>
<circle cx="248.68" cy="802.88" r="1.2" fill="#139fab"/>
<circle cx="257.66" cy="798.07" r="1.2" fill="#139fab"/>
<path d="M60.27,798.97 L69.24,800.21 L78.22,799.58 L87.19,801.11 L96.16,800.25 L100.65,801.51 L105.13,801.34 L109.62,801.70 L114.10,800.92 L118.59,798.91 L123.08,802.88 L132.05,800.64 L141.02,802.21 L149.99,801.55 L158.96,801.16 L167.94,799.70 L176.91,802.49 L185.88,798.95 L194.85,802.55 L203.82,798.69 L212.80,797.53 L221.77,796.61 L230.74,798.24 L239.71,798.43" stroke="#3cb0bd" stroke-width="0.8" fill="none" stroke-linejoin="round"/>
<circle cx="60.27" cy="798.97" r="1.2" fill="#139fab"/>
<circle cx="69.24" cy="800.21" r="1.2" fill="#139fab"/>
<circle cx="78.22" cy="799.58" r="1.2" fill="#139fab"/>
<circle cx="87.19" cy="801.11" r="1.2" fill="#139fab"/>
<circle cx="96.16" cy="800.25" r="1.2" fill="#139fab"/>
<circle cx="100.65" cy="801.51" r="1.2" fill="#139fab"/>
<circle cx="105.13" cy="801.34" r="1.2" fill="#139fab"/>
<circle cx="109.62" cy="801.70" r="1.2" fill="#139fab"/>
<circle cx="114.10" cy="800.92" r="1.2" fill="#139fab"/>
<circle cx="118.59" cy="798.91" r="1.2" fill="#139fab"/>
<circle cx="123.08" cy="802.88" r="1.2" fill="#139fab"/>
<circle cx="132.05" cy="800.64" r="1.2" fill="#139fab"/>
<circle cx="141.02" cy="802.21" r="1.2" fill="#139fab"/>
<circle cx="149.99" cy="801.55" r="1.2" fill="#139fab"/>
<circle cx="158.96" cy="801.16" r="1.2" fill="#139fab"/>
<circle cx="167.94" cy="799.70" r="1.2" fill="#139fab"/>
<circle cx="176.91" cy="802.49" r="1.2" fill="#139fab"/>
<circle cx="185.88" cy="798.95" r="1.2" fill="#139fab"/>
<circle cx="194.85" cy="802.55" r="1.2" fill="#139fab"/>
<circle cx="203.82" cy="798.69" r="1.2" fill="#139fab"/>
<circle cx="212.80" cy="797.53" r="1.2" fill="#139fab"/>
<circle cx="221.77" cy="796.61" r="1.2" fill="#139fab"/>
<circle cx="230.74" cy="798.24" r="1.2" fill="#139fab"/>
<circle cx="239.71" cy="798.43" r="1.2" fill="#139fab"/>
<path d="M132.05,800.35 L141.02,798.84 L149.99,790.97 L158.96,775.93 L167.94,732.22 L169.95,723.40" stroke="#62c2d6" stroke-width="0.85" fill="none" stroke-linejoin="round"/>
<path d="M171.52,722.37 L176.91,718.81 L185.88,708.91" stroke="#62c2d6" stroke-width="0.85" fill="none" stroke-linejoin="round"/>
<circle cx="141.02" cy="798.84" r="1.25" fill="#1b7f90"/>
<circle cx="149.99" cy="790.97" r="1.25" fill="#1b7f90"/>
<circle cx="158.96" cy="775.93" r="1.25" fill="#1b7f90"/>
<circle cx="167.94" cy="732.22" r="1.25" fill="#1b7f90"/>
<circle cx="176.91" cy="718.81" r="1.25" fill="#1b7f90"/>
<circle cx="185.88" cy="708.91" r="1.25" fill="#1b7f90"/>
<path d="M158.96,800.35 L167.94,788.75 L176.91,799.34" stroke="#e59acb" stroke-width="0.85" fill="none" stroke-linejoin="round"/>
<path d="M166.40,790.15 L169.48,790.15 L167.94,787.07 Z" fill="#CB52A3"/>
<path d="M176.91,799.34 L185.88,785.21 L194.85,785.87" stroke="#9ad6b5" stroke-width="0.85" fill="none" stroke-linejoin="round"/>
<rect x="184.58" y="783.91" width="2.60" height="2.60" fill="#5fb98a"/>
<rect x="193.55" y="784.57" width="2.60" height="2.60" fill="#5fb98a"/>
<path d="M203.82,802.37 L212.80,788.90 L216.16,793.29 L221.77,779.16 L230.74,786.73 L239.71,755.94 L248.68,788.24 L250.93,799.34" stroke="#e59acb" stroke-width="0.85" fill="none" stroke-linejoin="round"/>
<path d="M211.26,790.30 L214.34,790.30 L212.80,787.22 Z" fill="#CB52A3"/>
<path d="M220.23,780.56 L223.31,780.56 L221.77,777.48 Z" fill="#CB52A3"/>
<path d="M229.20,788.13 L232.28,788.13 L230.74,785.05 Z" fill="#CB52A3"/>
<path d="M238.17,757.34 L241.25,757.34 L239.71,754.26 Z" fill="#CB52A3"/>
<path d="M247.14,789.64 L250.22,789.64 L248.68,786.56 Z" fill="#CB52A3"/>
<path d="M221.77,800.35 L230.74,764.52" stroke="#e59acb" stroke-width="0.85" fill="none" stroke-linejoin="round"/>
<path d="M229.20,765.92 L232.28,765.92 L230.74,762.84 Z" fill="#CB52A3"/>
<path d="M221.77,799.34 L230.74,781.68 L239.71,795.31" stroke="#9ad6b5" stroke-width="0.85" fill="none" stroke-linejoin="round"/>
<rect x="229.44" y="780.38" width="2.60" height="2.60" fill="#5fb98a"/>
<path d="M230.74,800.35 L239.71,784.20 L248.68,778.65 L257.66,750.39" stroke="#62c2d6" stroke-width="0.85" fill="none" stroke-linejoin="round"/>
<circle cx="239.71" cy="784.20" r="1.25" fill="#1b7f90"/>
<circle cx="248.68" cy="778.65" r="1.25" fill="#1b7f90"/>
<circle cx="257.66" cy="750.39" r="1.25" fill="#1b7f90"/>
<path d="M248.68,797.83 L257.66,766.04" stroke="#62c2d6" stroke-width="0.85" fill="none" stroke-linejoin="round"/>
<circle cx="257.66" cy="766.04" r="1.25" fill="#1b7f90"/>
<line x1="346.10" y1="699.80" x2="346.10" y2="806.00" stroke="#111" stroke-width="1.35"/>
<line x1="345.50" y1="805.40" x2="507.40" y2="805.40" stroke="#111" stroke-width="1.35"/>
<line x1="342.30" y1="805.40" x2="346.10" y2="805.40" stroke="#1e1e1e" stroke-width="1.1"/>
<text transform="translate(338.50,808.20) scale(1.03,1)" font-size="8.6" text-anchor="end" fill="#1e1e1e" class="t">0</text>
<line x1="342.30" y1="757.75" x2="346.10" y2="757.75" stroke="#1e1e1e" stroke-width="1.1"/>
<text transform="translate(338.50,760.55) scale(1.03,1)" font-size="8.6" text-anchor="end" fill="#1e1e1e" class="t">50</text>
<line x1="342.30" y1="710.10" x2="346.10" y2="710.10" stroke="#1e1e1e" stroke-width="1.1"/>
<text transform="translate(338.50,712.90) scale(1.03,1)" font-size="8.6" text-anchor="end" fill="#1e1e1e" class="t">100</text>
<line x1="346.10" y1="805.40" x2="346.10" y2="809.20" stroke="#1e1e1e" stroke-width="1.1"/>
<text transform="translate(346.10,821.00) scale(1.03,1)" font-size="8.6" text-anchor="middle" fill="#1e1e1e" class="t">0</text>
<line x1="377.76" y1="805.40" x2="377.76" y2="809.20" stroke="#1e1e1e" stroke-width="1.1"/>
<text transform="translate(377.76,821.00) scale(1.03,1)" font-size="8.6" text-anchor="middle" fill="#1e1e1e" class="t">20</text>
<line x1="409.42" y1="805.40" x2="409.42" y2="809.20" stroke="#1e1e1e" stroke-width="1.1"/>
<text transform="translate(409.42,821.00) scale(1.03,1)" font-size="8.6" text-anchor="middle" fill="#1e1e1e" class="t">40</text>
<line x1="441.08" y1="805.40" x2="441.08" y2="809.20" stroke="#1e1e1e" stroke-width="1.1"/>
<text transform="translate(441.08,821.00) scale(1.03,1)" font-size="8.6" text-anchor="middle" fill="#1e1e1e" class="t">60</text>
<line x1="472.74" y1="805.40" x2="472.74" y2="809.20" stroke="#1e1e1e" stroke-width="1.1"/>
<text transform="translate(472.74,821.00) scale(1.03,1)" font-size="8.6" text-anchor="middle" fill="#1e1e1e" class="t">80</text>
<line x1="504.40" y1="805.40" x2="504.40" y2="809.20" stroke="#1e1e1e" stroke-width="1.1"/>
<text transform="translate(504.40,821.00) scale(1.03,1)" font-size="8.6" text-anchor="middle" fill="#1e1e1e" class="t">100</text>
<text x="426.40" y="836.00" font-size="10.8" text-anchor="middle" fill="#1e1e1e" class="c" textLength="87.5" lengthAdjust="spacingAndGlyphs">Weeks post Cre induction</text>
<text transform="translate(316.0,752.6) rotate(-90)" font-size="10.3" text-anchor="middle" fill="#1e1e1e" class="w" textLength="74" lengthAdjust="spacingAndGlyphs">Probability of survival</text>
<path d="M346.10,710.10 H441.08 V710.10 H441.08 V719.63 H453.74 V719.63 H453.74 V735.83 H479.07 V735.83 H479.07 V747.27 H491.74 V747.27" stroke="#74C597" stroke-width="1.2" fill="none"/>
<path d="M346.10,710.10 H441.08 V710.10 H441.08 V719.63 H466.41 V719.63 H466.41 V733.35 H485.40 V733.35 H485.40 V757.75 H491.74 V757.75" stroke="#1699BA" stroke-width="1.2" fill="none"/>
<path d="M346.10,710.10 H472.74 V710.10 H472.74 V729.16 H485.40 V729.16 H485.40 V779.95 H491.74 V779.95" stroke="#CB52A3" stroke-width="1.2" fill="none"/>
<path d="M346.10,710.10 H447.41 V710.10 H447.41 V719.63 H466.41 V719.63 H466.41 V729.16 H479.07 V729.16 H479.07 V741.83 H491.74 V741.83" stroke="#C9944E" stroke-width="1.2" fill="none"/>
<rect x="0" y="0" width="520" height="1" fill="#2e2e2e"/>
<rect x="0" y="0" width="1" height="848" fill="#2a2a2a"/>
<rect x="518" y="0" width="1" height="848" fill="#2a2a2a" opacity="0.35"/>
<rect x="519" y="0" width="1" height="848" fill="#262626"/>
<rect x="0" y="846" width="520" height="1" fill="#2a2a2a" opacity="0.5"/>
<rect x="0" y="847" width="520" height="1" fill="#262626"/>
</svg></body></html>
